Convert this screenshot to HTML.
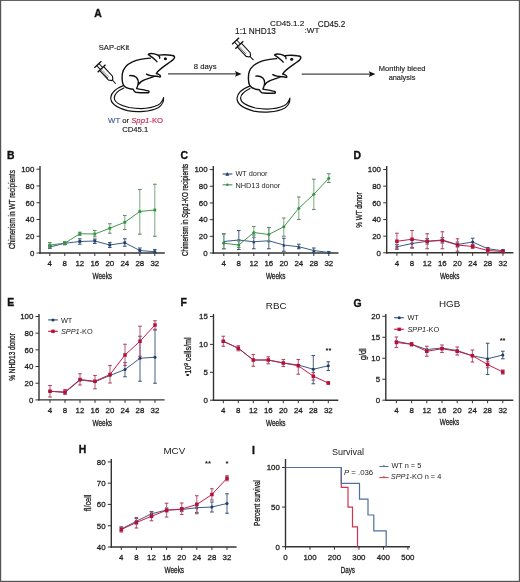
<!DOCTYPE html><html><head><meta charset="utf-8"><style>html,body{margin:0;padding:0;background:#fff;}svg{display:block;will-change:transform;}text{font-family:"Liberation Sans", sans-serif;}</style></head><body>
<svg width="520" height="582" viewBox="0 0 520 582">
<rect x="0" y="0" width="520" height="582" fill="#fff"/>
<text x="94.3" y="16.8" font-size="10.4" text-anchor="start" fill="#111" font-weight="bold" stroke="#111" stroke-width="0.35">A</text>
<text x="6.9" y="159.1" font-size="10.4" text-anchor="start" fill="#111" font-weight="bold" stroke="#111" stroke-width="0.35">B</text>
<text x="180.4" y="159.4" font-size="10.4" text-anchor="start" fill="#111" font-weight="bold" stroke="#111" stroke-width="0.35">C</text>
<text x="353.5" y="159.4" font-size="10.4" text-anchor="start" fill="#111" font-weight="bold" stroke="#111" stroke-width="0.35">D</text>
<text x="7.3" y="306.3" font-size="10.4" text-anchor="start" fill="#111" font-weight="bold" stroke="#111" stroke-width="0.35">E</text>
<text x="180.5" y="306.3" font-size="10.4" text-anchor="start" fill="#111" font-weight="bold" stroke="#111" stroke-width="0.35">F</text>
<text x="353.5" y="306.5" font-size="10.4" text-anchor="start" fill="#111" font-weight="bold" stroke="#111" stroke-width="0.35">G</text>
<text x="78.7" y="453.3" font-size="10.4" text-anchor="start" fill="#111" font-weight="bold" stroke="#111" stroke-width="0.35">H</text>
<text x="251.9" y="453.6" font-size="10.4" text-anchor="start" fill="#111" font-weight="bold" stroke="#111" stroke-width="0.35">I</text>
<line x1="40.0" y1="166.0" x2="40.0" y2="253.7" stroke="#333333" stroke-width="1.4"/>
<line x1="39.3" y1="253.0" x2="164.8" y2="253.0" stroke="#333333" stroke-width="1.4"/>
<line x1="36.5" y1="253.00" x2="40.0" y2="253.00" stroke="#333333" stroke-width="1"/>
<text x="34.3" y="255.85" font-size="7.9" text-anchor="end" fill="#1e1e1e" font-weight="normal" stroke="#1e1e1e" stroke-width="0.28">0</text>
<line x1="36.5" y1="236.24" x2="40.0" y2="236.24" stroke="#333333" stroke-width="1"/>
<text x="34.3" y="239.09" font-size="7.9" text-anchor="end" fill="#1e1e1e" font-weight="normal" stroke="#1e1e1e" stroke-width="0.28">20</text>
<line x1="36.5" y1="219.48" x2="40.0" y2="219.48" stroke="#333333" stroke-width="1"/>
<text x="34.3" y="222.33" font-size="7.9" text-anchor="end" fill="#1e1e1e" font-weight="normal" stroke="#1e1e1e" stroke-width="0.28">40</text>
<line x1="36.5" y1="202.72" x2="40.0" y2="202.72" stroke="#333333" stroke-width="1"/>
<text x="34.3" y="205.57" font-size="7.9" text-anchor="end" fill="#1e1e1e" font-weight="normal" stroke="#1e1e1e" stroke-width="0.28">60</text>
<line x1="36.5" y1="185.96" x2="40.0" y2="185.96" stroke="#333333" stroke-width="1"/>
<text x="34.3" y="188.81" font-size="7.9" text-anchor="end" fill="#1e1e1e" font-weight="normal" stroke="#1e1e1e" stroke-width="0.28">80</text>
<line x1="36.5" y1="169.20" x2="40.0" y2="169.20" stroke="#333333" stroke-width="1"/>
<text x="34.3" y="172.05" font-size="7.9" text-anchor="end" fill="#1e1e1e" font-weight="normal" stroke="#1e1e1e" stroke-width="0.28">100</text>
<line x1="49.80" y1="253.0" x2="49.80" y2="256.0" stroke="#333333" stroke-width="1"/>
<text x="49.8" y="266.0" font-size="7.9" text-anchor="middle" fill="#1e1e1e" font-weight="normal" stroke="#1e1e1e" stroke-width="0.28">4</text>
<line x1="64.80" y1="253.0" x2="64.80" y2="256.0" stroke="#333333" stroke-width="1"/>
<text x="64.8" y="266.0" font-size="7.9" text-anchor="middle" fill="#1e1e1e" font-weight="normal" stroke="#1e1e1e" stroke-width="0.28">8</text>
<line x1="79.80" y1="253.0" x2="79.80" y2="256.0" stroke="#333333" stroke-width="1"/>
<text x="79.8" y="266.0" font-size="7.9" text-anchor="middle" fill="#1e1e1e" font-weight="normal" stroke="#1e1e1e" stroke-width="0.28">12</text>
<line x1="94.80" y1="253.0" x2="94.80" y2="256.0" stroke="#333333" stroke-width="1"/>
<text x="94.8" y="266.0" font-size="7.9" text-anchor="middle" fill="#1e1e1e" font-weight="normal" stroke="#1e1e1e" stroke-width="0.28">16</text>
<line x1="109.80" y1="253.0" x2="109.80" y2="256.0" stroke="#333333" stroke-width="1"/>
<text x="109.8" y="266.0" font-size="7.9" text-anchor="middle" fill="#1e1e1e" font-weight="normal" stroke="#1e1e1e" stroke-width="0.28">20</text>
<line x1="124.80" y1="253.0" x2="124.80" y2="256.0" stroke="#333333" stroke-width="1"/>
<text x="124.8" y="266.0" font-size="7.9" text-anchor="middle" fill="#1e1e1e" font-weight="normal" stroke="#1e1e1e" stroke-width="0.28">24</text>
<line x1="139.80" y1="253.0" x2="139.80" y2="256.0" stroke="#333333" stroke-width="1"/>
<text x="139.8" y="266.0" font-size="7.9" text-anchor="middle" fill="#1e1e1e" font-weight="normal" stroke="#1e1e1e" stroke-width="0.28">28</text>
<line x1="154.80" y1="253.0" x2="154.80" y2="256.0" stroke="#333333" stroke-width="1"/>
<text x="154.8" y="266.0" font-size="7.9" text-anchor="middle" fill="#1e1e1e" font-weight="normal" stroke="#1e1e1e" stroke-width="0.28">32</text>
<text x="102.3" y="278.8" font-size="9.0" font-weight="normal" text-anchor="middle" fill="#1a1a1a" stroke="#1a1a1a" stroke-width="0.3" textLength="19.6" lengthAdjust="spacingAndGlyphs">Weeks</text>
<g transform="translate(14.9,209.6) rotate(-90)"><text x="0" y="0" font-size="9.0" font-weight="normal" text-anchor="middle" fill="#1a1a1a" stroke="#1a1a1a" stroke-width="0.3" textLength="79.0" lengthAdjust="spacingAndGlyphs">Chimerism in WT recipients</text></g>
<line x1="49.80" y1="245.5" x2="49.80" y2="248.5" stroke="#58718f" stroke-width="1.1"/>
<line x1="48.00" y1="245.5" x2="51.60" y2="245.5" stroke="#3f5a7e" stroke-width="1.1"/>
<line x1="48.00" y1="248.5" x2="51.60" y2="248.5" stroke="#3f5a7e" stroke-width="1.1"/>
<line x1="64.80" y1="242" x2="64.80" y2="244.5" stroke="#58718f" stroke-width="1.1"/>
<line x1="63.00" y1="242" x2="66.60" y2="242" stroke="#3f5a7e" stroke-width="1.1"/>
<line x1="63.00" y1="244.5" x2="66.60" y2="244.5" stroke="#3f5a7e" stroke-width="1.1"/>
<line x1="79.80" y1="238.75" x2="79.80" y2="244.25" stroke="#58718f" stroke-width="1.1"/>
<line x1="78.00" y1="238.75" x2="81.60" y2="238.75" stroke="#3f5a7e" stroke-width="1.1"/>
<line x1="78.00" y1="244.25" x2="81.60" y2="244.25" stroke="#3f5a7e" stroke-width="1.1"/>
<line x1="94.80" y1="239" x2="94.80" y2="243.5" stroke="#58718f" stroke-width="1.1"/>
<line x1="93.00" y1="239" x2="96.60" y2="239" stroke="#3f5a7e" stroke-width="1.1"/>
<line x1="93.00" y1="243.5" x2="96.60" y2="243.5" stroke="#3f5a7e" stroke-width="1.1"/>
<line x1="109.80" y1="242.5" x2="109.80" y2="247.5" stroke="#58718f" stroke-width="1.1"/>
<line x1="108.00" y1="242.5" x2="111.60" y2="242.5" stroke="#3f5a7e" stroke-width="1.1"/>
<line x1="108.00" y1="247.5" x2="111.60" y2="247.5" stroke="#3f5a7e" stroke-width="1.1"/>
<line x1="124.80" y1="238.75" x2="124.80" y2="246.25" stroke="#58718f" stroke-width="1.1"/>
<line x1="123.00" y1="238.75" x2="126.60" y2="238.75" stroke="#3f5a7e" stroke-width="1.1"/>
<line x1="123.00" y1="246.25" x2="126.60" y2="246.25" stroke="#3f5a7e" stroke-width="1.1"/>
<line x1="139.80" y1="248" x2="139.80" y2="253" stroke="#58718f" stroke-width="1.1"/>
<line x1="138.00" y1="248" x2="141.60" y2="248" stroke="#3f5a7e" stroke-width="1.1"/>
<line x1="138.00" y1="253" x2="141.60" y2="253" stroke="#3f5a7e" stroke-width="1.1"/>
<line x1="154.80" y1="249.5" x2="154.80" y2="253" stroke="#58718f" stroke-width="1.1"/>
<line x1="153.00" y1="249.5" x2="156.60" y2="249.5" stroke="#3f5a7e" stroke-width="1.1"/>
<line x1="153.00" y1="253" x2="156.60" y2="253" stroke="#3f5a7e" stroke-width="1.1"/>
<path d="M49.80,247.00 L64.80,243.25 L79.80,241.50 L94.80,241.00 L109.80,245.00 L124.80,242.75 L139.80,250.50 L154.80,251.75" fill="none" stroke="#3a5b86" stroke-width="1.0"/>
<rect x="48.40" y="245.60" width="2.8" height="2.8" fill="#1f3d66"/>
<rect x="63.40" y="241.85" width="2.8" height="2.8" fill="#1f3d66"/>
<rect x="78.40" y="240.10" width="2.8" height="2.8" fill="#1f3d66"/>
<rect x="93.40" y="239.60" width="2.8" height="2.8" fill="#1f3d66"/>
<rect x="108.40" y="243.60" width="2.8" height="2.8" fill="#1f3d66"/>
<rect x="123.40" y="241.35" width="2.8" height="2.8" fill="#1f3d66"/>
<rect x="138.40" y="249.10" width="2.8" height="2.8" fill="#1f3d66"/>
<rect x="153.40" y="250.35" width="2.8" height="2.8" fill="#1f3d66"/>
<line x1="49.80" y1="242.5" x2="49.80" y2="248" stroke="#88b08a" stroke-width="1.1"/>
<line x1="48.00" y1="242.5" x2="51.60" y2="242.5" stroke="#6a8a6e" stroke-width="1.1"/>
<line x1="48.00" y1="248" x2="51.60" y2="248" stroke="#6a8a6e" stroke-width="1.1"/>
<line x1="64.80" y1="241.8" x2="64.80" y2="244.8" stroke="#88b08a" stroke-width="1.1"/>
<line x1="63.00" y1="241.8" x2="66.60" y2="241.8" stroke="#6a8a6e" stroke-width="1.1"/>
<line x1="63.00" y1="244.8" x2="66.60" y2="244.8" stroke="#6a8a6e" stroke-width="1.1"/>
<line x1="79.80" y1="232.2" x2="79.80" y2="235.3" stroke="#88b08a" stroke-width="1.1"/>
<line x1="78.00" y1="232.2" x2="81.60" y2="232.2" stroke="#6a8a6e" stroke-width="1.1"/>
<line x1="78.00" y1="235.3" x2="81.60" y2="235.3" stroke="#6a8a6e" stroke-width="1.1"/>
<line x1="94.80" y1="230.5" x2="94.80" y2="236.75" stroke="#88b08a" stroke-width="1.1"/>
<line x1="93.00" y1="230.5" x2="96.60" y2="230.5" stroke="#6a8a6e" stroke-width="1.1"/>
<line x1="93.00" y1="236.75" x2="96.60" y2="236.75" stroke="#6a8a6e" stroke-width="1.1"/>
<line x1="109.80" y1="223.75" x2="109.80" y2="233.25" stroke="#88b08a" stroke-width="1.1"/>
<line x1="108.00" y1="223.75" x2="111.60" y2="223.75" stroke="#6a8a6e" stroke-width="1.1"/>
<line x1="108.00" y1="233.25" x2="111.60" y2="233.25" stroke="#6a8a6e" stroke-width="1.1"/>
<line x1="124.80" y1="215.5" x2="124.80" y2="229.5" stroke="#88b08a" stroke-width="1.1"/>
<line x1="123.00" y1="215.5" x2="126.60" y2="215.5" stroke="#6a8a6e" stroke-width="1.1"/>
<line x1="123.00" y1="229.5" x2="126.60" y2="229.5" stroke="#6a8a6e" stroke-width="1.1"/>
<line x1="139.80" y1="189.5" x2="139.80" y2="234.25" stroke="#88b08a" stroke-width="1.1"/>
<line x1="138.00" y1="189.5" x2="141.60" y2="189.5" stroke="#6a8a6e" stroke-width="1.1"/>
<line x1="138.00" y1="234.25" x2="141.60" y2="234.25" stroke="#6a8a6e" stroke-width="1.1"/>
<line x1="154.80" y1="184.25" x2="154.80" y2="236.25" stroke="#88b08a" stroke-width="1.1"/>
<line x1="153.00" y1="184.25" x2="156.60" y2="184.25" stroke="#6a8a6e" stroke-width="1.1"/>
<line x1="153.00" y1="236.25" x2="156.60" y2="236.25" stroke="#6a8a6e" stroke-width="1.1"/>
<path d="M49.80,245.00 L64.80,243.25 L79.80,233.75 L94.80,234.00 L109.80,228.25 L124.80,222.25 L139.80,211.50 L154.80,210.00" fill="none" stroke="#479450" stroke-width="1.0"/>
<rect x="48.40" y="243.60" width="2.8" height="2.8" fill="#2c9a3c"/>
<rect x="63.40" y="241.85" width="2.8" height="2.8" fill="#2c9a3c"/>
<rect x="78.40" y="232.35" width="2.8" height="2.8" fill="#2c9a3c"/>
<rect x="93.40" y="232.60" width="2.8" height="2.8" fill="#2c9a3c"/>
<rect x="108.40" y="226.85" width="2.8" height="2.8" fill="#2c9a3c"/>
<rect x="123.40" y="220.85" width="2.8" height="2.8" fill="#2c9a3c"/>
<rect x="138.40" y="210.10" width="2.8" height="2.8" fill="#2c9a3c"/>
<rect x="153.40" y="208.60" width="2.8" height="2.8" fill="#2c9a3c"/>
<line x1="213.3" y1="166.0" x2="213.3" y2="253.7" stroke="#333333" stroke-width="1.4"/>
<line x1="212.60000000000002" y1="253.0" x2="338.5" y2="253.0" stroke="#333333" stroke-width="1.4"/>
<line x1="209.8" y1="253.00" x2="213.3" y2="253.00" stroke="#333333" stroke-width="1"/>
<text x="207.6" y="255.85" font-size="7.9" text-anchor="end" fill="#1e1e1e" font-weight="normal" stroke="#1e1e1e" stroke-width="0.28">0</text>
<line x1="209.8" y1="236.32" x2="213.3" y2="236.32" stroke="#333333" stroke-width="1"/>
<text x="207.6" y="239.17" font-size="7.9" text-anchor="end" fill="#1e1e1e" font-weight="normal" stroke="#1e1e1e" stroke-width="0.28">20</text>
<line x1="209.8" y1="219.64" x2="213.3" y2="219.64" stroke="#333333" stroke-width="1"/>
<text x="207.6" y="222.49" font-size="7.9" text-anchor="end" fill="#1e1e1e" font-weight="normal" stroke="#1e1e1e" stroke-width="0.28">40</text>
<line x1="209.8" y1="202.96" x2="213.3" y2="202.96" stroke="#333333" stroke-width="1"/>
<text x="207.6" y="205.81" font-size="7.9" text-anchor="end" fill="#1e1e1e" font-weight="normal" stroke="#1e1e1e" stroke-width="0.28">60</text>
<line x1="209.8" y1="186.28" x2="213.3" y2="186.28" stroke="#333333" stroke-width="1"/>
<text x="207.6" y="189.13" font-size="7.9" text-anchor="end" fill="#1e1e1e" font-weight="normal" stroke="#1e1e1e" stroke-width="0.28">80</text>
<line x1="209.8" y1="169.60" x2="213.3" y2="169.60" stroke="#333333" stroke-width="1"/>
<text x="207.6" y="172.45" font-size="7.9" text-anchor="end" fill="#1e1e1e" font-weight="normal" stroke="#1e1e1e" stroke-width="0.28">100</text>
<line x1="223.80" y1="253.0" x2="223.80" y2="256.0" stroke="#333333" stroke-width="1"/>
<text x="223.8" y="266.0" font-size="7.9" text-anchor="middle" fill="#1e1e1e" font-weight="normal" stroke="#1e1e1e" stroke-width="0.28">4</text>
<line x1="238.80" y1="253.0" x2="238.80" y2="256.0" stroke="#333333" stroke-width="1"/>
<text x="238.8" y="266.0" font-size="7.9" text-anchor="middle" fill="#1e1e1e" font-weight="normal" stroke="#1e1e1e" stroke-width="0.28">8</text>
<line x1="253.80" y1="253.0" x2="253.80" y2="256.0" stroke="#333333" stroke-width="1"/>
<text x="253.8" y="266.0" font-size="7.9" text-anchor="middle" fill="#1e1e1e" font-weight="normal" stroke="#1e1e1e" stroke-width="0.28">12</text>
<line x1="268.80" y1="253.0" x2="268.80" y2="256.0" stroke="#333333" stroke-width="1"/>
<text x="268.8" y="266.0" font-size="7.9" text-anchor="middle" fill="#1e1e1e" font-weight="normal" stroke="#1e1e1e" stroke-width="0.28">16</text>
<line x1="283.80" y1="253.0" x2="283.80" y2="256.0" stroke="#333333" stroke-width="1"/>
<text x="283.8" y="266.0" font-size="7.9" text-anchor="middle" fill="#1e1e1e" font-weight="normal" stroke="#1e1e1e" stroke-width="0.28">20</text>
<line x1="298.80" y1="253.0" x2="298.80" y2="256.0" stroke="#333333" stroke-width="1"/>
<text x="298.8" y="266.0" font-size="7.9" text-anchor="middle" fill="#1e1e1e" font-weight="normal" stroke="#1e1e1e" stroke-width="0.28">24</text>
<line x1="313.80" y1="253.0" x2="313.80" y2="256.0" stroke="#333333" stroke-width="1"/>
<text x="313.8" y="266.0" font-size="7.9" text-anchor="middle" fill="#1e1e1e" font-weight="normal" stroke="#1e1e1e" stroke-width="0.28">28</text>
<line x1="328.80" y1="253.0" x2="328.80" y2="256.0" stroke="#333333" stroke-width="1"/>
<text x="328.8" y="266.0" font-size="7.9" text-anchor="middle" fill="#1e1e1e" font-weight="normal" stroke="#1e1e1e" stroke-width="0.28">32</text>
<text x="275.7" y="278.8" font-size="9.0" font-weight="normal" text-anchor="middle" fill="#1a1a1a" stroke="#1a1a1a" stroke-width="0.3" textLength="19.6" lengthAdjust="spacingAndGlyphs">Weeks</text>
<g transform="translate(188.4,209.9) rotate(-90)"><text x="0" y="0" font-size="9.0" font-weight="normal" text-anchor="middle" fill="#1a1a1a" stroke="#1a1a1a" stroke-width="0.3" textLength="92.3" lengthAdjust="spacingAndGlyphs">Chimerism in <tspan font-style="italic">Spp1</tspan>-KO recipients</text></g>
<line x1="223.80" y1="234" x2="223.80" y2="248.75" stroke="#58718f" stroke-width="1.1"/>
<line x1="222.00" y1="234" x2="225.60" y2="234" stroke="#3f5a7e" stroke-width="1.1"/>
<line x1="222.00" y1="248.75" x2="225.60" y2="248.75" stroke="#3f5a7e" stroke-width="1.1"/>
<line x1="238.80" y1="230.5" x2="238.80" y2="249.5" stroke="#58718f" stroke-width="1.1"/>
<line x1="237.00" y1="230.5" x2="240.60" y2="230.5" stroke="#3f5a7e" stroke-width="1.1"/>
<line x1="237.00" y1="249.5" x2="240.60" y2="249.5" stroke="#3f5a7e" stroke-width="1.1"/>
<line x1="253.80" y1="235" x2="253.80" y2="248.75" stroke="#58718f" stroke-width="1.1"/>
<line x1="252.00" y1="235" x2="255.60" y2="235" stroke="#3f5a7e" stroke-width="1.1"/>
<line x1="252.00" y1="248.75" x2="255.60" y2="248.75" stroke="#3f5a7e" stroke-width="1.1"/>
<line x1="268.80" y1="227.5" x2="268.80" y2="248.75" stroke="#58718f" stroke-width="1.1"/>
<line x1="267.00" y1="227.5" x2="270.60" y2="227.5" stroke="#3f5a7e" stroke-width="1.1"/>
<line x1="267.00" y1="248.75" x2="270.60" y2="248.75" stroke="#3f5a7e" stroke-width="1.1"/>
<line x1="283.80" y1="238.25" x2="283.80" y2="251.25" stroke="#58718f" stroke-width="1.1"/>
<line x1="282.00" y1="238.25" x2="285.60" y2="238.25" stroke="#3f5a7e" stroke-width="1.1"/>
<line x1="282.00" y1="251.25" x2="285.60" y2="251.25" stroke="#3f5a7e" stroke-width="1.1"/>
<line x1="298.80" y1="244.25" x2="298.80" y2="248.75" stroke="#58718f" stroke-width="1.1"/>
<line x1="297.00" y1="244.25" x2="300.60" y2="244.25" stroke="#3f5a7e" stroke-width="1.1"/>
<line x1="297.00" y1="248.75" x2="300.60" y2="248.75" stroke="#3f5a7e" stroke-width="1.1"/>
<line x1="313.80" y1="248" x2="313.80" y2="252.5" stroke="#58718f" stroke-width="1.1"/>
<line x1="312.00" y1="248" x2="315.60" y2="248" stroke="#3f5a7e" stroke-width="1.1"/>
<line x1="312.00" y1="252.5" x2="315.60" y2="252.5" stroke="#3f5a7e" stroke-width="1.1"/>
<line x1="328.80" y1="251.5" x2="328.80" y2="253" stroke="#58718f" stroke-width="1.1"/>
<line x1="327.00" y1="251.5" x2="330.60" y2="251.5" stroke="#3f5a7e" stroke-width="1.1"/>
<line x1="327.00" y1="253" x2="330.60" y2="253" stroke="#3f5a7e" stroke-width="1.1"/>
<path d="M223.80,241.50 L238.80,240.00 L253.80,241.75 L268.80,240.75 L283.80,245.00 L298.80,246.75 L313.80,250.50 L328.80,252.50" fill="none" stroke="#3a5b86" stroke-width="1.0"/>
<path d="M222.20,243.02 L225.40,243.02 L223.80,239.98 Z" fill="#1f3d66"/>
<path d="M237.20,241.52 L240.40,241.52 L238.80,238.48 Z" fill="#1f3d66"/>
<path d="M252.20,243.27 L255.40,243.27 L253.80,240.23 Z" fill="#1f3d66"/>
<path d="M267.20,242.27 L270.40,242.27 L268.80,239.23 Z" fill="#1f3d66"/>
<path d="M282.20,246.52 L285.40,246.52 L283.80,243.48 Z" fill="#1f3d66"/>
<path d="M297.20,248.27 L300.40,248.27 L298.80,245.23 Z" fill="#1f3d66"/>
<path d="M312.20,252.02 L315.40,252.02 L313.80,248.98 Z" fill="#1f3d66"/>
<path d="M327.20,254.02 L330.40,254.02 L328.80,250.98 Z" fill="#1f3d66"/>
<line x1="223.80" y1="233.75" x2="223.80" y2="248.75" stroke="#88b08a" stroke-width="1.1"/>
<line x1="222.00" y1="233.75" x2="225.60" y2="233.75" stroke="#6a8a6e" stroke-width="1.1"/>
<line x1="222.00" y1="248.75" x2="225.60" y2="248.75" stroke="#6a8a6e" stroke-width="1.1"/>
<line x1="238.80" y1="240" x2="238.80" y2="247.5" stroke="#88b08a" stroke-width="1.1"/>
<line x1="237.00" y1="240" x2="240.60" y2="240" stroke="#6a8a6e" stroke-width="1.1"/>
<line x1="237.00" y1="247.5" x2="240.60" y2="247.5" stroke="#6a8a6e" stroke-width="1.1"/>
<line x1="253.80" y1="226.5" x2="253.80" y2="237.5" stroke="#88b08a" stroke-width="1.1"/>
<line x1="252.00" y1="226.5" x2="255.60" y2="226.5" stroke="#6a8a6e" stroke-width="1.1"/>
<line x1="252.00" y1="237.5" x2="255.60" y2="237.5" stroke="#6a8a6e" stroke-width="1.1"/>
<line x1="268.80" y1="227.5" x2="268.80" y2="241.25" stroke="#88b08a" stroke-width="1.1"/>
<line x1="267.00" y1="227.5" x2="270.60" y2="227.5" stroke="#6a8a6e" stroke-width="1.1"/>
<line x1="267.00" y1="241.25" x2="270.60" y2="241.25" stroke="#6a8a6e" stroke-width="1.1"/>
<line x1="283.80" y1="218" x2="283.80" y2="236.25" stroke="#88b08a" stroke-width="1.1"/>
<line x1="282.00" y1="218" x2="285.60" y2="218" stroke="#6a8a6e" stroke-width="1.1"/>
<line x1="282.00" y1="236.25" x2="285.60" y2="236.25" stroke="#6a8a6e" stroke-width="1.1"/>
<line x1="298.80" y1="197" x2="298.80" y2="219.5" stroke="#88b08a" stroke-width="1.1"/>
<line x1="297.00" y1="197" x2="300.60" y2="197" stroke="#6a8a6e" stroke-width="1.1"/>
<line x1="297.00" y1="219.5" x2="300.60" y2="219.5" stroke="#6a8a6e" stroke-width="1.1"/>
<line x1="313.80" y1="179.25" x2="313.80" y2="209.5" stroke="#88b08a" stroke-width="1.1"/>
<line x1="312.00" y1="179.25" x2="315.60" y2="179.25" stroke="#6a8a6e" stroke-width="1.1"/>
<line x1="312.00" y1="209.5" x2="315.60" y2="209.5" stroke="#6a8a6e" stroke-width="1.1"/>
<line x1="328.80" y1="173.75" x2="328.80" y2="182.5" stroke="#88b08a" stroke-width="1.1"/>
<line x1="327.00" y1="173.75" x2="330.60" y2="173.75" stroke="#6a8a6e" stroke-width="1.1"/>
<line x1="327.00" y1="182.5" x2="330.60" y2="182.5" stroke="#6a8a6e" stroke-width="1.1"/>
<path d="M223.80,243.25 L238.80,245.00 L253.80,232.50 L268.80,234.50 L283.80,226.75 L298.80,208.25 L313.80,194.25 L328.80,178.25" fill="none" stroke="#479450" stroke-width="1.0"/>
<circle cx="223.80" cy="243.25" r="1.5" fill="#2c9a3c"/>
<circle cx="238.80" cy="245" r="1.5" fill="#2c9a3c"/>
<circle cx="253.80" cy="232.5" r="1.5" fill="#2c9a3c"/>
<circle cx="268.80" cy="234.5" r="1.5" fill="#2c9a3c"/>
<circle cx="283.80" cy="226.75" r="1.5" fill="#2c9a3c"/>
<circle cx="298.80" cy="208.25" r="1.5" fill="#2c9a3c"/>
<circle cx="313.80" cy="194.25" r="1.5" fill="#2c9a3c"/>
<circle cx="328.80" cy="178.25" r="1.5" fill="#2c9a3c"/>
<line x1="222.6" y1="174.0" x2="232.4" y2="174.0" stroke="#3a5b86" stroke-width="1.2"/>
<path d="M225.30,175.70 L229.30,175.70 L227.30,171.90 Z" fill="#1f3d66"/>
<text x="235.4" y="176.1" font-size="7.35" text-anchor="start" fill="#1e1e1e" font-weight="normal" >WT donor</text>
<line x1="222.6" y1="184.8" x2="232.4" y2="184.8" stroke="#5a9a60" stroke-width="1.2"/>
<circle cx="227.40" cy="184.8" r="1.3" fill="#2c9a3c"/>
<text x="235.4" y="187.5" font-size="7.35" text-anchor="start" fill="#1e1e1e" font-weight="normal" >NHD13 donor</text>
<line x1="386.7" y1="166.0" x2="386.7" y2="253.5" stroke="#333333" stroke-width="1.4"/>
<line x1="386.0" y1="252.8" x2="513.4" y2="252.8" stroke="#333333" stroke-width="1.4"/>
<line x1="383.2" y1="252.80" x2="386.7" y2="252.80" stroke="#333333" stroke-width="1"/>
<text x="381.0" y="255.65" font-size="7.9" text-anchor="end" fill="#1e1e1e" font-weight="normal" stroke="#1e1e1e" stroke-width="0.28">0</text>
<line x1="383.2" y1="236.14" x2="386.7" y2="236.14" stroke="#333333" stroke-width="1"/>
<text x="381.0" y="238.99" font-size="7.9" text-anchor="end" fill="#1e1e1e" font-weight="normal" stroke="#1e1e1e" stroke-width="0.28">20</text>
<line x1="383.2" y1="219.48" x2="386.7" y2="219.48" stroke="#333333" stroke-width="1"/>
<text x="381.0" y="222.33" font-size="7.9" text-anchor="end" fill="#1e1e1e" font-weight="normal" stroke="#1e1e1e" stroke-width="0.28">40</text>
<line x1="383.2" y1="202.82" x2="386.7" y2="202.82" stroke="#333333" stroke-width="1"/>
<text x="381.0" y="205.67" font-size="7.9" text-anchor="end" fill="#1e1e1e" font-weight="normal" stroke="#1e1e1e" stroke-width="0.28">60</text>
<line x1="383.2" y1="186.16" x2="386.7" y2="186.16" stroke="#333333" stroke-width="1"/>
<text x="381.0" y="189.01" font-size="7.9" text-anchor="end" fill="#1e1e1e" font-weight="normal" stroke="#1e1e1e" stroke-width="0.28">80</text>
<line x1="383.2" y1="169.50" x2="386.7" y2="169.50" stroke="#333333" stroke-width="1"/>
<text x="381.0" y="172.35" font-size="7.9" text-anchor="end" fill="#1e1e1e" font-weight="normal" stroke="#1e1e1e" stroke-width="0.28">100</text>
<line x1="396.90" y1="252.8" x2="396.90" y2="255.8" stroke="#333333" stroke-width="1"/>
<text x="396.9" y="265.8" font-size="7.9" text-anchor="middle" fill="#1e1e1e" font-weight="normal" stroke="#1e1e1e" stroke-width="0.28">4</text>
<line x1="412.05" y1="252.8" x2="412.05" y2="255.8" stroke="#333333" stroke-width="1"/>
<text x="412.05" y="265.8" font-size="7.9" text-anchor="middle" fill="#1e1e1e" font-weight="normal" stroke="#1e1e1e" stroke-width="0.28">8</text>
<line x1="427.20" y1="252.8" x2="427.20" y2="255.8" stroke="#333333" stroke-width="1"/>
<text x="427.2" y="265.8" font-size="7.9" text-anchor="middle" fill="#1e1e1e" font-weight="normal" stroke="#1e1e1e" stroke-width="0.28">12</text>
<line x1="442.35" y1="252.8" x2="442.35" y2="255.8" stroke="#333333" stroke-width="1"/>
<text x="442.35" y="265.8" font-size="7.9" text-anchor="middle" fill="#1e1e1e" font-weight="normal" stroke="#1e1e1e" stroke-width="0.28">16</text>
<line x1="457.50" y1="252.8" x2="457.50" y2="255.8" stroke="#333333" stroke-width="1"/>
<text x="457.5" y="265.8" font-size="7.9" text-anchor="middle" fill="#1e1e1e" font-weight="normal" stroke="#1e1e1e" stroke-width="0.28">20</text>
<line x1="472.65" y1="252.8" x2="472.65" y2="255.8" stroke="#333333" stroke-width="1"/>
<text x="472.65" y="265.8" font-size="7.9" text-anchor="middle" fill="#1e1e1e" font-weight="normal" stroke="#1e1e1e" stroke-width="0.28">24</text>
<line x1="487.80" y1="252.8" x2="487.80" y2="255.8" stroke="#333333" stroke-width="1"/>
<text x="487.8" y="265.8" font-size="7.9" text-anchor="middle" fill="#1e1e1e" font-weight="normal" stroke="#1e1e1e" stroke-width="0.28">28</text>
<line x1="502.95" y1="252.8" x2="502.95" y2="255.8" stroke="#333333" stroke-width="1"/>
<text x="502.95" y="265.8" font-size="7.9" text-anchor="middle" fill="#1e1e1e" font-weight="normal" stroke="#1e1e1e" stroke-width="0.28">32</text>
<text x="449.7" y="278.8" font-size="9.0" font-weight="normal" text-anchor="middle" fill="#1a1a1a" stroke="#1a1a1a" stroke-width="0.3" textLength="19.6" lengthAdjust="spacingAndGlyphs">Weeks</text>
<g transform="translate(361.6,210.0) rotate(-90)"><text x="0" y="0" font-size="9.0" font-weight="normal" text-anchor="middle" fill="#1a1a1a" stroke="#1a1a1a" stroke-width="0.3" textLength="35.6" lengthAdjust="spacingAndGlyphs">% WT donor</text></g>
<line x1="396.90" y1="244.5" x2="396.90" y2="249" stroke="#58718f" stroke-width="1.1"/>
<line x1="395.10" y1="244.5" x2="398.70" y2="244.5" stroke="#3f5a7e" stroke-width="1.1"/>
<line x1="395.10" y1="249" x2="398.70" y2="249" stroke="#3f5a7e" stroke-width="1.1"/>
<line x1="412.05" y1="240" x2="412.05" y2="247.5" stroke="#58718f" stroke-width="1.1"/>
<line x1="410.25" y1="240" x2="413.85" y2="240" stroke="#3f5a7e" stroke-width="1.1"/>
<line x1="410.25" y1="247.5" x2="413.85" y2="247.5" stroke="#3f5a7e" stroke-width="1.1"/>
<line x1="427.20" y1="238.5" x2="427.20" y2="244" stroke="#58718f" stroke-width="1.1"/>
<line x1="425.40" y1="238.5" x2="429.00" y2="238.5" stroke="#3f5a7e" stroke-width="1.1"/>
<line x1="425.40" y1="244" x2="429.00" y2="244" stroke="#3f5a7e" stroke-width="1.1"/>
<line x1="442.35" y1="237.5" x2="442.35" y2="243" stroke="#58718f" stroke-width="1.1"/>
<line x1="440.55" y1="237.5" x2="444.15" y2="237.5" stroke="#3f5a7e" stroke-width="1.1"/>
<line x1="440.55" y1="243" x2="444.15" y2="243" stroke="#3f5a7e" stroke-width="1.1"/>
<line x1="457.50" y1="242" x2="457.50" y2="247" stroke="#58718f" stroke-width="1.1"/>
<line x1="455.70" y1="242" x2="459.30" y2="242" stroke="#3f5a7e" stroke-width="1.1"/>
<line x1="455.70" y1="247" x2="459.30" y2="247" stroke="#3f5a7e" stroke-width="1.1"/>
<line x1="472.65" y1="238.25" x2="472.65" y2="245.75" stroke="#58718f" stroke-width="1.1"/>
<line x1="470.85" y1="238.25" x2="474.45" y2="238.25" stroke="#3f5a7e" stroke-width="1.1"/>
<line x1="470.85" y1="245.75" x2="474.45" y2="245.75" stroke="#3f5a7e" stroke-width="1.1"/>
<line x1="487.80" y1="247.5" x2="487.80" y2="250" stroke="#58718f" stroke-width="1.1"/>
<line x1="486.00" y1="247.5" x2="489.60" y2="247.5" stroke="#3f5a7e" stroke-width="1.1"/>
<line x1="486.00" y1="250" x2="489.60" y2="250" stroke="#3f5a7e" stroke-width="1.1"/>
<line x1="502.95" y1="249.5" x2="502.95" y2="252" stroke="#58718f" stroke-width="1.1"/>
<line x1="501.15" y1="249.5" x2="504.75" y2="249.5" stroke="#3f5a7e" stroke-width="1.1"/>
<line x1="501.15" y1="252" x2="504.75" y2="252" stroke="#3f5a7e" stroke-width="1.1"/>
<path d="M396.90,246.75 L412.05,243.50 L427.20,241.25 L442.35,240.00 L457.50,244.50 L472.65,242.00 L487.80,248.75 L502.95,250.75" fill="none" stroke="#3a5b86" stroke-width="1.0"/>
<circle cx="396.90" cy="246.75" r="1.55" fill="#1f3d66"/>
<circle cx="412.05" cy="243.5" r="1.55" fill="#1f3d66"/>
<circle cx="427.20" cy="241.25" r="1.55" fill="#1f3d66"/>
<circle cx="442.35" cy="240" r="1.55" fill="#1f3d66"/>
<circle cx="457.50" cy="244.5" r="1.55" fill="#1f3d66"/>
<circle cx="472.65" cy="242" r="1.55" fill="#1f3d66"/>
<circle cx="487.80" cy="248.75" r="1.55" fill="#1f3d66"/>
<circle cx="502.95" cy="250.75" r="1.55" fill="#1f3d66"/>
<line x1="396.90" y1="233.25" x2="396.90" y2="249.25" stroke="#bf6680" stroke-width="1.1"/>
<line x1="395.10" y1="233.25" x2="398.70" y2="233.25" stroke="#b04566" stroke-width="1.1"/>
<line x1="395.10" y1="249.25" x2="398.70" y2="249.25" stroke="#b04566" stroke-width="1.1"/>
<line x1="412.05" y1="230.5" x2="412.05" y2="248.25" stroke="#bf6680" stroke-width="1.1"/>
<line x1="410.25" y1="230.5" x2="413.85" y2="230.5" stroke="#b04566" stroke-width="1.1"/>
<line x1="410.25" y1="248.25" x2="413.85" y2="248.25" stroke="#b04566" stroke-width="1.1"/>
<line x1="427.20" y1="233.75" x2="427.20" y2="248.75" stroke="#bf6680" stroke-width="1.1"/>
<line x1="425.40" y1="233.75" x2="429.00" y2="233.75" stroke="#b04566" stroke-width="1.1"/>
<line x1="425.40" y1="248.75" x2="429.00" y2="248.75" stroke="#b04566" stroke-width="1.1"/>
<line x1="442.35" y1="231.75" x2="442.35" y2="248.75" stroke="#bf6680" stroke-width="1.1"/>
<line x1="440.55" y1="231.75" x2="444.15" y2="231.75" stroke="#b04566" stroke-width="1.1"/>
<line x1="440.55" y1="248.75" x2="444.15" y2="248.75" stroke="#b04566" stroke-width="1.1"/>
<line x1="457.50" y1="238.75" x2="457.50" y2="251.25" stroke="#bf6680" stroke-width="1.1"/>
<line x1="455.70" y1="238.75" x2="459.30" y2="238.75" stroke="#b04566" stroke-width="1.1"/>
<line x1="455.70" y1="251.25" x2="459.30" y2="251.25" stroke="#b04566" stroke-width="1.1"/>
<line x1="472.65" y1="244.5" x2="472.65" y2="248.25" stroke="#bf6680" stroke-width="1.1"/>
<line x1="470.85" y1="244.5" x2="474.45" y2="244.5" stroke="#b04566" stroke-width="1.1"/>
<line x1="470.85" y1="248.25" x2="474.45" y2="248.25" stroke="#b04566" stroke-width="1.1"/>
<line x1="487.80" y1="248.25" x2="487.80" y2="252.5" stroke="#bf6680" stroke-width="1.1"/>
<line x1="486.00" y1="248.25" x2="489.60" y2="248.25" stroke="#b04566" stroke-width="1.1"/>
<line x1="486.00" y1="252.5" x2="489.60" y2="252.5" stroke="#b04566" stroke-width="1.1"/>
<line x1="502.95" y1="250.5" x2="502.95" y2="252.5" stroke="#bf6680" stroke-width="1.1"/>
<line x1="501.15" y1="250.5" x2="504.75" y2="250.5" stroke="#b04566" stroke-width="1.1"/>
<line x1="501.15" y1="252.5" x2="504.75" y2="252.5" stroke="#b04566" stroke-width="1.1"/>
<path d="M396.90,241.25 L412.05,239.25 L427.20,241.25 L442.35,240.50 L457.50,245.00 L472.65,246.50 L487.80,250.50 L502.95,251.50" fill="none" stroke="#cc1a44" stroke-width="1.0"/>
<rect x="395.15" y="239.50" width="3.5" height="3.5" fill="#b3103a"/>
<rect x="410.30" y="237.50" width="3.5" height="3.5" fill="#b3103a"/>
<rect x="425.45" y="239.50" width="3.5" height="3.5" fill="#b3103a"/>
<rect x="440.60" y="238.75" width="3.5" height="3.5" fill="#b3103a"/>
<rect x="455.75" y="243.25" width="3.5" height="3.5" fill="#b3103a"/>
<rect x="470.90" y="244.75" width="3.5" height="3.5" fill="#b3103a"/>
<rect x="486.05" y="248.75" width="3.5" height="3.5" fill="#b3103a"/>
<rect x="501.20" y="249.75" width="3.5" height="3.5" fill="#b3103a"/>
<line x1="39.0" y1="314.0" x2="39.0" y2="400.59999999999997" stroke="#333333" stroke-width="1.4"/>
<line x1="38.3" y1="399.9" x2="164.6" y2="399.9" stroke="#333333" stroke-width="1.4"/>
<line x1="35.5" y1="399.90" x2="39.0" y2="399.90" stroke="#333333" stroke-width="1"/>
<text x="33.3" y="402.75" font-size="7.9" text-anchor="end" fill="#1e1e1e" font-weight="normal" stroke="#1e1e1e" stroke-width="0.28">0</text>
<line x1="35.5" y1="383.22" x2="39.0" y2="383.22" stroke="#333333" stroke-width="1"/>
<text x="33.3" y="386.07" font-size="7.9" text-anchor="end" fill="#1e1e1e" font-weight="normal" stroke="#1e1e1e" stroke-width="0.28">20</text>
<line x1="35.5" y1="366.54" x2="39.0" y2="366.54" stroke="#333333" stroke-width="1"/>
<text x="33.3" y="369.39" font-size="7.9" text-anchor="end" fill="#1e1e1e" font-weight="normal" stroke="#1e1e1e" stroke-width="0.28">40</text>
<line x1="35.5" y1="349.86" x2="39.0" y2="349.86" stroke="#333333" stroke-width="1"/>
<text x="33.3" y="352.71" font-size="7.9" text-anchor="end" fill="#1e1e1e" font-weight="normal" stroke="#1e1e1e" stroke-width="0.28">60</text>
<line x1="35.5" y1="333.18" x2="39.0" y2="333.18" stroke="#333333" stroke-width="1"/>
<text x="33.3" y="336.03" font-size="7.9" text-anchor="end" fill="#1e1e1e" font-weight="normal" stroke="#1e1e1e" stroke-width="0.28">80</text>
<line x1="35.5" y1="316.50" x2="39.0" y2="316.50" stroke="#333333" stroke-width="1"/>
<text x="33.3" y="319.35" font-size="7.9" text-anchor="end" fill="#1e1e1e" font-weight="normal" stroke="#1e1e1e" stroke-width="0.28">100</text>
<line x1="50.00" y1="399.9" x2="50.00" y2="402.9" stroke="#333333" stroke-width="1"/>
<text x="50.0" y="412.9" font-size="7.9" text-anchor="middle" fill="#1e1e1e" font-weight="normal" stroke="#1e1e1e" stroke-width="0.28">4</text>
<line x1="65.00" y1="399.9" x2="65.00" y2="402.9" stroke="#333333" stroke-width="1"/>
<text x="65.0" y="412.9" font-size="7.9" text-anchor="middle" fill="#1e1e1e" font-weight="normal" stroke="#1e1e1e" stroke-width="0.28">8</text>
<line x1="80.00" y1="399.9" x2="80.00" y2="402.9" stroke="#333333" stroke-width="1"/>
<text x="80.0" y="412.9" font-size="7.9" text-anchor="middle" fill="#1e1e1e" font-weight="normal" stroke="#1e1e1e" stroke-width="0.28">12</text>
<line x1="95.00" y1="399.9" x2="95.00" y2="402.9" stroke="#333333" stroke-width="1"/>
<text x="95.0" y="412.9" font-size="7.9" text-anchor="middle" fill="#1e1e1e" font-weight="normal" stroke="#1e1e1e" stroke-width="0.28">16</text>
<line x1="110.00" y1="399.9" x2="110.00" y2="402.9" stroke="#333333" stroke-width="1"/>
<text x="110.0" y="412.9" font-size="7.9" text-anchor="middle" fill="#1e1e1e" font-weight="normal" stroke="#1e1e1e" stroke-width="0.28">20</text>
<line x1="125.00" y1="399.9" x2="125.00" y2="402.9" stroke="#333333" stroke-width="1"/>
<text x="125.0" y="412.9" font-size="7.9" text-anchor="middle" fill="#1e1e1e" font-weight="normal" stroke="#1e1e1e" stroke-width="0.28">24</text>
<line x1="140.00" y1="399.9" x2="140.00" y2="402.9" stroke="#333333" stroke-width="1"/>
<text x="140.0" y="412.9" font-size="7.9" text-anchor="middle" fill="#1e1e1e" font-weight="normal" stroke="#1e1e1e" stroke-width="0.28">28</text>
<line x1="155.00" y1="399.9" x2="155.00" y2="402.9" stroke="#333333" stroke-width="1"/>
<text x="155.0" y="412.9" font-size="7.9" text-anchor="middle" fill="#1e1e1e" font-weight="normal" stroke="#1e1e1e" stroke-width="0.28">32</text>
<text x="102.3" y="425.8" font-size="9.0" font-weight="normal" text-anchor="middle" fill="#1a1a1a" stroke="#1a1a1a" stroke-width="0.3" textLength="19.6" lengthAdjust="spacingAndGlyphs">Weeks</text>
<g transform="translate(14.9,357.0) rotate(-90)"><text x="0" y="0" font-size="9.0" font-weight="normal" text-anchor="middle" fill="#1a1a1a" stroke="#1a1a1a" stroke-width="0.3" textLength="47.6" lengthAdjust="spacingAndGlyphs">% NHD13 donor</text></g>
<line x1="125.00" y1="362.5" x2="125.00" y2="376.75" stroke="#58718f" stroke-width="1.1"/>
<line x1="123.20" y1="362.5" x2="126.80" y2="362.5" stroke="#3f5a7e" stroke-width="1.1"/>
<line x1="123.20" y1="376.75" x2="126.80" y2="376.75" stroke="#3f5a7e" stroke-width="1.1"/>
<line x1="140.00" y1="336.25" x2="140.00" y2="381.25" stroke="#58718f" stroke-width="1.1"/>
<line x1="138.20" y1="336.25" x2="141.80" y2="336.25" stroke="#3f5a7e" stroke-width="1.1"/>
<line x1="138.20" y1="381.25" x2="141.80" y2="381.25" stroke="#3f5a7e" stroke-width="1.1"/>
<line x1="155.00" y1="330" x2="155.00" y2="383.25" stroke="#58718f" stroke-width="1.1"/>
<line x1="153.20" y1="330" x2="156.80" y2="330" stroke="#3f5a7e" stroke-width="1.1"/>
<line x1="153.20" y1="383.25" x2="156.80" y2="383.25" stroke="#3f5a7e" stroke-width="1.1"/>
<path d="M50.00,391.25 L65.00,392.50 L80.00,380.00 L95.00,381.75 L110.00,375.50 L125.00,369.50 L140.00,358.25 L155.00,357.25" fill="none" stroke="#3a5b86" stroke-width="1.0"/>
<circle cx="50.00" cy="391.25" r="1.55" fill="#1f3d66"/>
<circle cx="65.00" cy="392.5" r="1.55" fill="#1f3d66"/>
<circle cx="80.00" cy="380" r="1.55" fill="#1f3d66"/>
<circle cx="95.00" cy="381.75" r="1.55" fill="#1f3d66"/>
<circle cx="110.00" cy="375.5" r="1.55" fill="#1f3d66"/>
<circle cx="125.00" cy="369.5" r="1.55" fill="#1f3d66"/>
<circle cx="140.00" cy="358.25" r="1.55" fill="#1f3d66"/>
<circle cx="155.00" cy="357.25" r="1.55" fill="#1f3d66"/>
<line x1="50.00" y1="385.5" x2="50.00" y2="397" stroke="#bf6680" stroke-width="1.1"/>
<line x1="48.20" y1="385.5" x2="51.80" y2="385.5" stroke="#b04566" stroke-width="1.1"/>
<line x1="48.20" y1="397" x2="51.80" y2="397" stroke="#b04566" stroke-width="1.1"/>
<line x1="65.00" y1="389.5" x2="65.00" y2="394.5" stroke="#bf6680" stroke-width="1.1"/>
<line x1="63.20" y1="389.5" x2="66.80" y2="389.5" stroke="#b04566" stroke-width="1.1"/>
<line x1="63.20" y1="394.5" x2="66.80" y2="394.5" stroke="#b04566" stroke-width="1.1"/>
<line x1="80.00" y1="373.75" x2="80.00" y2="385" stroke="#bf6680" stroke-width="1.1"/>
<line x1="78.20" y1="373.75" x2="81.80" y2="373.75" stroke="#b04566" stroke-width="1.1"/>
<line x1="78.20" y1="385" x2="81.80" y2="385" stroke="#b04566" stroke-width="1.1"/>
<line x1="95.00" y1="375.5" x2="95.00" y2="388.75" stroke="#bf6680" stroke-width="1.1"/>
<line x1="93.20" y1="375.5" x2="96.80" y2="375.5" stroke="#b04566" stroke-width="1.1"/>
<line x1="93.20" y1="388.75" x2="96.80" y2="388.75" stroke="#b04566" stroke-width="1.1"/>
<line x1="110.00" y1="365.5" x2="110.00" y2="383" stroke="#bf6680" stroke-width="1.1"/>
<line x1="108.20" y1="365.5" x2="111.80" y2="365.5" stroke="#b04566" stroke-width="1.1"/>
<line x1="108.20" y1="383" x2="111.80" y2="383" stroke="#b04566" stroke-width="1.1"/>
<line x1="125.00" y1="344.25" x2="125.00" y2="365.5" stroke="#bf6680" stroke-width="1.1"/>
<line x1="123.20" y1="344.25" x2="126.80" y2="344.25" stroke="#b04566" stroke-width="1.1"/>
<line x1="123.20" y1="365.5" x2="126.80" y2="365.5" stroke="#b04566" stroke-width="1.1"/>
<line x1="140.00" y1="326.25" x2="140.00" y2="356.25" stroke="#bf6680" stroke-width="1.1"/>
<line x1="138.20" y1="326.25" x2="141.80" y2="326.25" stroke="#b04566" stroke-width="1.1"/>
<line x1="138.20" y1="356.25" x2="141.80" y2="356.25" stroke="#b04566" stroke-width="1.1"/>
<line x1="155.00" y1="320.75" x2="155.00" y2="329.25" stroke="#bf6680" stroke-width="1.1"/>
<line x1="153.20" y1="320.75" x2="156.80" y2="320.75" stroke="#b04566" stroke-width="1.1"/>
<line x1="153.20" y1="329.25" x2="156.80" y2="329.25" stroke="#b04566" stroke-width="1.1"/>
<path d="M50.00,391.25 L65.00,392.00 L80.00,379.50 L95.00,381.25 L110.00,374.50 L125.00,355.00 L140.00,341.25 L155.00,325.00" fill="none" stroke="#cc1a44" stroke-width="1.0"/>
<rect x="48.25" y="389.50" width="3.5" height="3.5" fill="#b3103a"/>
<rect x="63.25" y="390.25" width="3.5" height="3.5" fill="#b3103a"/>
<rect x="78.25" y="377.75" width="3.5" height="3.5" fill="#b3103a"/>
<rect x="93.25" y="379.50" width="3.5" height="3.5" fill="#b3103a"/>
<rect x="108.25" y="372.75" width="3.5" height="3.5" fill="#b3103a"/>
<rect x="123.25" y="353.25" width="3.5" height="3.5" fill="#b3103a"/>
<rect x="138.25" y="339.50" width="3.5" height="3.5" fill="#b3103a"/>
<rect x="153.25" y="323.25" width="3.5" height="3.5" fill="#b3103a"/>
<line x1="48.2" y1="319.9" x2="57.8" y2="319.9" stroke="#3a5b86" stroke-width="1.2"/>
<circle cx="53.00" cy="319.9" r="1.5" fill="#1f3d66"/>
<text x="60.9" y="322.5" font-size="7.35" text-anchor="start" fill="#1e1e1e" font-weight="normal" >WT</text>
<line x1="48.2" y1="331.3" x2="57.8" y2="331.3" stroke="#cc1a44" stroke-width="1.2"/>
<rect x="51.30" y="329.60" width="3.4" height="3.4" fill="#b3103a"/>
<text x="60.9" y="333.7" font-size="7.35" text-anchor="start" fill="#1e1e1e" font-weight="normal" ><tspan font-style="italic">SPP1</tspan>-KO</text>
<line x1="213.5" y1="314.0" x2="213.5" y2="400.9" stroke="#333333" stroke-width="1.4"/>
<line x1="212.8" y1="400.2" x2="338.3" y2="400.2" stroke="#333333" stroke-width="1.4"/>
<line x1="210.0" y1="400.20" x2="213.5" y2="400.20" stroke="#333333" stroke-width="1"/>
<text x="207.8" y="403.05" font-size="7.9" text-anchor="end" fill="#1e1e1e" font-weight="normal" stroke="#1e1e1e" stroke-width="0.28">0</text>
<line x1="210.0" y1="372.30" x2="213.5" y2="372.30" stroke="#333333" stroke-width="1"/>
<text x="207.8" y="375.15" font-size="7.9" text-anchor="end" fill="#1e1e1e" font-weight="normal" stroke="#1e1e1e" stroke-width="0.28">5</text>
<line x1="210.0" y1="344.40" x2="213.5" y2="344.40" stroke="#333333" stroke-width="1"/>
<text x="207.8" y="347.25" font-size="7.9" text-anchor="end" fill="#1e1e1e" font-weight="normal" stroke="#1e1e1e" stroke-width="0.28">10</text>
<line x1="210.0" y1="316.50" x2="213.5" y2="316.50" stroke="#333333" stroke-width="1"/>
<text x="207.8" y="319.35" font-size="7.9" text-anchor="end" fill="#1e1e1e" font-weight="normal" stroke="#1e1e1e" stroke-width="0.28">15</text>
<line x1="223.30" y1="400.2" x2="223.30" y2="403.2" stroke="#333333" stroke-width="1"/>
<text x="223.3" y="413.2" font-size="7.9" text-anchor="middle" fill="#1e1e1e" font-weight="normal" stroke="#1e1e1e" stroke-width="0.28">4</text>
<line x1="238.30" y1="400.2" x2="238.30" y2="403.2" stroke="#333333" stroke-width="1"/>
<text x="238.3" y="413.2" font-size="7.9" text-anchor="middle" fill="#1e1e1e" font-weight="normal" stroke="#1e1e1e" stroke-width="0.28">8</text>
<line x1="253.30" y1="400.2" x2="253.30" y2="403.2" stroke="#333333" stroke-width="1"/>
<text x="253.3" y="413.2" font-size="7.9" text-anchor="middle" fill="#1e1e1e" font-weight="normal" stroke="#1e1e1e" stroke-width="0.28">12</text>
<line x1="268.30" y1="400.2" x2="268.30" y2="403.2" stroke="#333333" stroke-width="1"/>
<text x="268.3" y="413.2" font-size="7.9" text-anchor="middle" fill="#1e1e1e" font-weight="normal" stroke="#1e1e1e" stroke-width="0.28">16</text>
<line x1="283.30" y1="400.2" x2="283.30" y2="403.2" stroke="#333333" stroke-width="1"/>
<text x="283.3" y="413.2" font-size="7.9" text-anchor="middle" fill="#1e1e1e" font-weight="normal" stroke="#1e1e1e" stroke-width="0.28">20</text>
<line x1="298.30" y1="400.2" x2="298.30" y2="403.2" stroke="#333333" stroke-width="1"/>
<text x="298.3" y="413.2" font-size="7.9" text-anchor="middle" fill="#1e1e1e" font-weight="normal" stroke="#1e1e1e" stroke-width="0.28">24</text>
<line x1="313.30" y1="400.2" x2="313.30" y2="403.2" stroke="#333333" stroke-width="1"/>
<text x="313.3" y="413.2" font-size="7.9" text-anchor="middle" fill="#1e1e1e" font-weight="normal" stroke="#1e1e1e" stroke-width="0.28">28</text>
<line x1="328.30" y1="400.2" x2="328.30" y2="403.2" stroke="#333333" stroke-width="1"/>
<text x="328.3" y="413.2" font-size="7.9" text-anchor="middle" fill="#1e1e1e" font-weight="normal" stroke="#1e1e1e" stroke-width="0.28">32</text>
<text x="275.8" y="425.8" font-size="9.0" font-weight="normal" text-anchor="middle" fill="#1a1a1a" stroke="#1a1a1a" stroke-width="0.3" textLength="19.6" lengthAdjust="spacingAndGlyphs">Weeks</text>
<text x="276.2" y="308.5" font-size="9.8" text-anchor="middle" fill="#222" font-weight="normal" >RBC</text>
<g transform="translate(191.4,356.9) rotate(-90)"><text x="0" y="0" font-size="9.0" font-weight="normal" text-anchor="middle" fill="#1a1a1a" stroke="#1a1a1a" stroke-width="0.3" textLength="38.8" lengthAdjust="spacingAndGlyphs">•10<tspan font-size="6" dy="-3.2">9</tspan><tspan dy="3.2"> cells/ml</tspan></text></g>
<line x1="313.30" y1="355.5" x2="313.30" y2="383.75" stroke="#58718f" stroke-width="1.1"/>
<line x1="311.50" y1="355.5" x2="315.10" y2="355.5" stroke="#3f5a7e" stroke-width="1.1"/>
<line x1="311.50" y1="383.75" x2="315.10" y2="383.75" stroke="#3f5a7e" stroke-width="1.1"/>
<line x1="328.30" y1="361.75" x2="328.30" y2="370.5" stroke="#58718f" stroke-width="1.1"/>
<line x1="326.50" y1="361.75" x2="330.10" y2="361.75" stroke="#3f5a7e" stroke-width="1.1"/>
<line x1="326.50" y1="370.5" x2="330.10" y2="370.5" stroke="#3f5a7e" stroke-width="1.1"/>
<path d="M223.30,341.25 L238.30,348.25 L253.30,360.00 L268.30,360.00 L283.30,363.00 L298.30,365.00 L313.30,369.25 L328.30,365.75" fill="none" stroke="#3a5b86" stroke-width="1.0"/>
<circle cx="223.30" cy="341.25" r="1.55" fill="#1f3d66"/>
<circle cx="238.30" cy="348.25" r="1.55" fill="#1f3d66"/>
<circle cx="253.30" cy="360" r="1.55" fill="#1f3d66"/>
<circle cx="268.30" cy="360" r="1.55" fill="#1f3d66"/>
<circle cx="283.30" cy="363" r="1.55" fill="#1f3d66"/>
<circle cx="298.30" cy="365" r="1.55" fill="#1f3d66"/>
<circle cx="313.30" cy="369.25" r="1.55" fill="#1f3d66"/>
<circle cx="328.30" cy="365.75" r="1.55" fill="#1f3d66"/>
<line x1="223.30" y1="336.25" x2="223.30" y2="346.25" stroke="#bf6680" stroke-width="1.1"/>
<line x1="221.50" y1="336.25" x2="225.10" y2="336.25" stroke="#b04566" stroke-width="1.1"/>
<line x1="221.50" y1="346.25" x2="225.10" y2="346.25" stroke="#b04566" stroke-width="1.1"/>
<line x1="238.30" y1="345.75" x2="238.30" y2="350.75" stroke="#bf6680" stroke-width="1.1"/>
<line x1="236.50" y1="345.75" x2="240.10" y2="345.75" stroke="#b04566" stroke-width="1.1"/>
<line x1="236.50" y1="350.75" x2="240.10" y2="350.75" stroke="#b04566" stroke-width="1.1"/>
<line x1="253.30" y1="354.5" x2="253.30" y2="366.25" stroke="#bf6680" stroke-width="1.1"/>
<line x1="251.50" y1="354.5" x2="255.10" y2="354.5" stroke="#b04566" stroke-width="1.1"/>
<line x1="251.50" y1="366.25" x2="255.10" y2="366.25" stroke="#b04566" stroke-width="1.1"/>
<line x1="268.30" y1="356.75" x2="268.30" y2="363.75" stroke="#bf6680" stroke-width="1.1"/>
<line x1="266.50" y1="356.75" x2="270.10" y2="356.75" stroke="#b04566" stroke-width="1.1"/>
<line x1="266.50" y1="363.75" x2="270.10" y2="363.75" stroke="#b04566" stroke-width="1.1"/>
<line x1="283.30" y1="359.5" x2="283.30" y2="366.5" stroke="#bf6680" stroke-width="1.1"/>
<line x1="281.50" y1="359.5" x2="285.10" y2="359.5" stroke="#b04566" stroke-width="1.1"/>
<line x1="281.50" y1="366.5" x2="285.10" y2="366.5" stroke="#b04566" stroke-width="1.1"/>
<line x1="298.30" y1="359.5" x2="298.30" y2="374.25" stroke="#bf6680" stroke-width="1.1"/>
<line x1="296.50" y1="359.5" x2="300.10" y2="359.5" stroke="#b04566" stroke-width="1.1"/>
<line x1="296.50" y1="374.25" x2="300.10" y2="374.25" stroke="#b04566" stroke-width="1.1"/>
<line x1="313.30" y1="372.5" x2="313.30" y2="380" stroke="#bf6680" stroke-width="1.1"/>
<line x1="311.50" y1="372.5" x2="315.10" y2="372.5" stroke="#b04566" stroke-width="1.1"/>
<line x1="311.50" y1="380" x2="315.10" y2="380" stroke="#b04566" stroke-width="1.1"/>
<line x1="328.30" y1="382" x2="328.30" y2="384" stroke="#bf6680" stroke-width="1.1"/>
<line x1="326.50" y1="382" x2="330.10" y2="382" stroke="#b04566" stroke-width="1.1"/>
<line x1="326.50" y1="384" x2="330.10" y2="384" stroke="#b04566" stroke-width="1.1"/>
<path d="M223.30,341.25 L238.30,348.25 L253.30,360.00 L268.30,360.00 L283.30,363.00 L298.30,365.75 L313.30,376.25 L328.30,383.00" fill="none" stroke="#cc1a44" stroke-width="1.0"/>
<rect x="221.55" y="339.50" width="3.5" height="3.5" fill="#b3103a"/>
<rect x="236.55" y="346.50" width="3.5" height="3.5" fill="#b3103a"/>
<rect x="251.55" y="358.25" width="3.5" height="3.5" fill="#b3103a"/>
<rect x="266.55" y="358.25" width="3.5" height="3.5" fill="#b3103a"/>
<rect x="281.55" y="361.25" width="3.5" height="3.5" fill="#b3103a"/>
<rect x="296.55" y="364.00" width="3.5" height="3.5" fill="#b3103a"/>
<rect x="311.55" y="374.50" width="3.5" height="3.5" fill="#b3103a"/>
<rect x="326.55" y="381.25" width="3.5" height="3.5" fill="#b3103a"/>
<text x="328.4" y="352.9" font-size="7.6" text-anchor="middle" fill="#111" font-weight="bold" >**</text>
<line x1="385.8" y1="314.0" x2="385.8" y2="400.9" stroke="#333333" stroke-width="1.4"/>
<line x1="385.1" y1="400.2" x2="513.3" y2="400.2" stroke="#333333" stroke-width="1.4"/>
<line x1="382.3" y1="400.20" x2="385.8" y2="400.20" stroke="#333333" stroke-width="1"/>
<text x="380.1" y="403.05" font-size="7.9" text-anchor="end" fill="#1e1e1e" font-weight="normal" stroke="#1e1e1e" stroke-width="0.28">0</text>
<line x1="382.3" y1="379.23" x2="385.8" y2="379.23" stroke="#333333" stroke-width="1"/>
<text x="380.1" y="382.08" font-size="7.9" text-anchor="end" fill="#1e1e1e" font-weight="normal" stroke="#1e1e1e" stroke-width="0.28">5</text>
<line x1="382.3" y1="358.25" x2="385.8" y2="358.25" stroke="#333333" stroke-width="1"/>
<text x="380.1" y="361.1" font-size="7.9" text-anchor="end" fill="#1e1e1e" font-weight="normal" stroke="#1e1e1e" stroke-width="0.28">10</text>
<line x1="382.3" y1="337.28" x2="385.8" y2="337.28" stroke="#333333" stroke-width="1"/>
<text x="380.1" y="340.13" font-size="7.9" text-anchor="end" fill="#1e1e1e" font-weight="normal" stroke="#1e1e1e" stroke-width="0.28">15</text>
<line x1="382.3" y1="316.30" x2="385.8" y2="316.30" stroke="#333333" stroke-width="1"/>
<text x="380.1" y="319.15" font-size="7.9" text-anchor="end" fill="#1e1e1e" font-weight="normal" stroke="#1e1e1e" stroke-width="0.28">20</text>
<line x1="396.40" y1="400.2" x2="396.40" y2="403.2" stroke="#333333" stroke-width="1"/>
<text x="396.4" y="413.2" font-size="7.9" text-anchor="middle" fill="#1e1e1e" font-weight="normal" stroke="#1e1e1e" stroke-width="0.28">4</text>
<line x1="411.60" y1="400.2" x2="411.60" y2="403.2" stroke="#333333" stroke-width="1"/>
<text x="411.6" y="413.2" font-size="7.9" text-anchor="middle" fill="#1e1e1e" font-weight="normal" stroke="#1e1e1e" stroke-width="0.28">8</text>
<line x1="426.80" y1="400.2" x2="426.80" y2="403.2" stroke="#333333" stroke-width="1"/>
<text x="426.8" y="413.2" font-size="7.9" text-anchor="middle" fill="#1e1e1e" font-weight="normal" stroke="#1e1e1e" stroke-width="0.28">12</text>
<line x1="442.00" y1="400.2" x2="442.00" y2="403.2" stroke="#333333" stroke-width="1"/>
<text x="442.0" y="413.2" font-size="7.9" text-anchor="middle" fill="#1e1e1e" font-weight="normal" stroke="#1e1e1e" stroke-width="0.28">16</text>
<line x1="457.20" y1="400.2" x2="457.20" y2="403.2" stroke="#333333" stroke-width="1"/>
<text x="457.2" y="413.2" font-size="7.9" text-anchor="middle" fill="#1e1e1e" font-weight="normal" stroke="#1e1e1e" stroke-width="0.28">20</text>
<line x1="472.40" y1="400.2" x2="472.40" y2="403.2" stroke="#333333" stroke-width="1"/>
<text x="472.4" y="413.2" font-size="7.9" text-anchor="middle" fill="#1e1e1e" font-weight="normal" stroke="#1e1e1e" stroke-width="0.28">24</text>
<line x1="487.60" y1="400.2" x2="487.60" y2="403.2" stroke="#333333" stroke-width="1"/>
<text x="487.6" y="413.2" font-size="7.9" text-anchor="middle" fill="#1e1e1e" font-weight="normal" stroke="#1e1e1e" stroke-width="0.28">28</text>
<line x1="502.80" y1="400.2" x2="502.80" y2="403.2" stroke="#333333" stroke-width="1"/>
<text x="502.8" y="413.2" font-size="7.9" text-anchor="middle" fill="#1e1e1e" font-weight="normal" stroke="#1e1e1e" stroke-width="0.28">32</text>
<text x="449.5" y="425.2" font-size="9.0" font-weight="normal" text-anchor="middle" fill="#1a1a1a" stroke="#1a1a1a" stroke-width="0.3" textLength="19.6" lengthAdjust="spacingAndGlyphs">Weeks</text>
<text x="449.65" y="306.9" font-size="9.8" text-anchor="middle" fill="#222" font-weight="normal" >HGB</text>
<g transform="translate(366.2,354.3) rotate(-90)"><text x="0" y="0" font-size="9.0" font-weight="normal" text-anchor="middle" fill="#1a1a1a" stroke="#1a1a1a" stroke-width="0.3" textLength="11.6" lengthAdjust="spacingAndGlyphs">g/dl</text></g>
<line x1="487.60" y1="343.25" x2="487.60" y2="374.5" stroke="#58718f" stroke-width="1.1"/>
<line x1="485.80" y1="343.25" x2="489.40" y2="343.25" stroke="#3f5a7e" stroke-width="1.1"/>
<line x1="485.80" y1="374.5" x2="489.40" y2="374.5" stroke="#3f5a7e" stroke-width="1.1"/>
<line x1="502.80" y1="351.25" x2="502.80" y2="358.75" stroke="#58718f" stroke-width="1.1"/>
<line x1="501.00" y1="351.25" x2="504.60" y2="351.25" stroke="#3f5a7e" stroke-width="1.1"/>
<line x1="501.00" y1="358.75" x2="504.60" y2="358.75" stroke="#3f5a7e" stroke-width="1.1"/>
<path d="M396.40,341.25 L411.60,344.25 L426.80,349.50 L442.00,348.00 L457.20,350.50 L472.40,355.75 L487.60,358.75 L502.80,355.00" fill="none" stroke="#3a5b86" stroke-width="1.0"/>
<circle cx="396.40" cy="341.25" r="1.55" fill="#1f3d66"/>
<circle cx="411.60" cy="344.25" r="1.55" fill="#1f3d66"/>
<circle cx="426.80" cy="349.5" r="1.55" fill="#1f3d66"/>
<circle cx="442.00" cy="348" r="1.55" fill="#1f3d66"/>
<circle cx="457.20" cy="350.5" r="1.55" fill="#1f3d66"/>
<circle cx="472.40" cy="355.75" r="1.55" fill="#1f3d66"/>
<circle cx="487.60" cy="358.75" r="1.55" fill="#1f3d66"/>
<circle cx="502.80" cy="355" r="1.55" fill="#1f3d66"/>
<line x1="396.40" y1="337" x2="396.40" y2="347.5" stroke="#bf6680" stroke-width="1.1"/>
<line x1="394.60" y1="337" x2="398.20" y2="337" stroke="#b04566" stroke-width="1.1"/>
<line x1="394.60" y1="347.5" x2="398.20" y2="347.5" stroke="#b04566" stroke-width="1.1"/>
<line x1="411.60" y1="342.5" x2="411.60" y2="346" stroke="#bf6680" stroke-width="1.1"/>
<line x1="409.80" y1="342.5" x2="413.40" y2="342.5" stroke="#b04566" stroke-width="1.1"/>
<line x1="409.80" y1="346" x2="413.40" y2="346" stroke="#b04566" stroke-width="1.1"/>
<line x1="426.80" y1="346.25" x2="426.80" y2="356.25" stroke="#bf6680" stroke-width="1.1"/>
<line x1="425.00" y1="346.25" x2="428.60" y2="346.25" stroke="#b04566" stroke-width="1.1"/>
<line x1="425.00" y1="356.25" x2="428.60" y2="356.25" stroke="#b04566" stroke-width="1.1"/>
<line x1="442.00" y1="345" x2="442.00" y2="352.5" stroke="#bf6680" stroke-width="1.1"/>
<line x1="440.20" y1="345" x2="443.80" y2="345" stroke="#b04566" stroke-width="1.1"/>
<line x1="440.20" y1="352.5" x2="443.80" y2="352.5" stroke="#b04566" stroke-width="1.1"/>
<line x1="457.20" y1="347" x2="457.20" y2="355" stroke="#bf6680" stroke-width="1.1"/>
<line x1="455.40" y1="347" x2="459.00" y2="347" stroke="#b04566" stroke-width="1.1"/>
<line x1="455.40" y1="355" x2="459.00" y2="355" stroke="#b04566" stroke-width="1.1"/>
<line x1="472.40" y1="350" x2="472.40" y2="362" stroke="#bf6680" stroke-width="1.1"/>
<line x1="470.60" y1="350" x2="474.20" y2="350" stroke="#b04566" stroke-width="1.1"/>
<line x1="470.60" y1="362" x2="474.20" y2="362" stroke="#b04566" stroke-width="1.1"/>
<line x1="487.60" y1="361.25" x2="487.60" y2="367.75" stroke="#bf6680" stroke-width="1.1"/>
<line x1="485.80" y1="361.25" x2="489.40" y2="361.25" stroke="#b04566" stroke-width="1.1"/>
<line x1="485.80" y1="367.75" x2="489.40" y2="367.75" stroke="#b04566" stroke-width="1.1"/>
<line x1="502.80" y1="370" x2="502.80" y2="374" stroke="#bf6680" stroke-width="1.1"/>
<line x1="501.00" y1="370" x2="504.60" y2="370" stroke="#b04566" stroke-width="1.1"/>
<line x1="501.00" y1="374" x2="504.60" y2="374" stroke="#b04566" stroke-width="1.1"/>
<path d="M396.40,342.50 L411.60,344.25 L426.80,351.25 L442.00,348.75 L457.20,351.25 L472.40,355.75 L487.60,364.50 L502.80,372.00" fill="none" stroke="#cc1a44" stroke-width="1.0"/>
<rect x="394.65" y="340.75" width="3.5" height="3.5" fill="#b3103a"/>
<rect x="409.85" y="342.50" width="3.5" height="3.5" fill="#b3103a"/>
<rect x="425.05" y="349.50" width="3.5" height="3.5" fill="#b3103a"/>
<rect x="440.25" y="347.00" width="3.5" height="3.5" fill="#b3103a"/>
<rect x="455.45" y="349.50" width="3.5" height="3.5" fill="#b3103a"/>
<rect x="470.65" y="354.00" width="3.5" height="3.5" fill="#b3103a"/>
<rect x="485.85" y="362.75" width="3.5" height="3.5" fill="#b3103a"/>
<rect x="501.05" y="370.25" width="3.5" height="3.5" fill="#b3103a"/>
<line x1="394.2" y1="317.7" x2="403.8" y2="317.7" stroke="#3a5b86" stroke-width="1.2"/>
<circle cx="399.20" cy="317.7" r="1.5" fill="#1f3d66"/>
<text x="407.4" y="320.0" font-size="7.35" text-anchor="start" fill="#1e1e1e" font-weight="normal" >WT</text>
<line x1="394.2" y1="329.3" x2="403.8" y2="329.3" stroke="#cc1a44" stroke-width="1.2"/>
<rect x="397.50" y="327.60" width="3.4" height="3.4" fill="#b3103a"/>
<text x="407.4" y="331.7" font-size="7.35" text-anchor="start" fill="#1e1e1e" font-weight="normal" ><tspan font-style="italic">SPP1</tspan>-KO</text>
<text x="502.6" y="343.3" font-size="7.6" text-anchor="middle" fill="#111" font-weight="bold" >**</text>
<line x1="111.3" y1="459.0" x2="111.3" y2="547.7" stroke="#333333" stroke-width="1.4"/>
<line x1="110.6" y1="547.0" x2="236.6" y2="547.0" stroke="#333333" stroke-width="1.4"/>
<line x1="107.8" y1="547.00" x2="111.3" y2="547.00" stroke="#333333" stroke-width="1"/>
<text x="105.6" y="549.85" font-size="7.9" text-anchor="end" fill="#1e1e1e" font-weight="normal" stroke="#1e1e1e" stroke-width="0.28">40</text>
<line x1="107.8" y1="525.73" x2="111.3" y2="525.73" stroke="#333333" stroke-width="1"/>
<text x="105.6" y="528.58" font-size="7.9" text-anchor="end" fill="#1e1e1e" font-weight="normal" stroke="#1e1e1e" stroke-width="0.28">50</text>
<line x1="107.8" y1="504.45" x2="111.3" y2="504.45" stroke="#333333" stroke-width="1"/>
<text x="105.6" y="507.3" font-size="7.9" text-anchor="end" fill="#1e1e1e" font-weight="normal" stroke="#1e1e1e" stroke-width="0.28">60</text>
<line x1="107.8" y1="483.18" x2="111.3" y2="483.18" stroke="#333333" stroke-width="1"/>
<text x="105.6" y="486.03" font-size="7.9" text-anchor="end" fill="#1e1e1e" font-weight="normal" stroke="#1e1e1e" stroke-width="0.28">70</text>
<line x1="107.8" y1="461.90" x2="111.3" y2="461.90" stroke="#333333" stroke-width="1"/>
<text x="105.6" y="464.75" font-size="7.9" text-anchor="end" fill="#1e1e1e" font-weight="normal" stroke="#1e1e1e" stroke-width="0.28">80</text>
<line x1="121.30" y1="547.0" x2="121.30" y2="550.0" stroke="#333333" stroke-width="1"/>
<text x="121.3" y="560.0" font-size="7.9" text-anchor="middle" fill="#1e1e1e" font-weight="normal" stroke="#1e1e1e" stroke-width="0.28">4</text>
<line x1="136.40" y1="547.0" x2="136.40" y2="550.0" stroke="#333333" stroke-width="1"/>
<text x="136.4" y="560.0" font-size="7.9" text-anchor="middle" fill="#1e1e1e" font-weight="normal" stroke="#1e1e1e" stroke-width="0.28">8</text>
<line x1="151.50" y1="547.0" x2="151.50" y2="550.0" stroke="#333333" stroke-width="1"/>
<text x="151.5" y="560.0" font-size="7.9" text-anchor="middle" fill="#1e1e1e" font-weight="normal" stroke="#1e1e1e" stroke-width="0.28">12</text>
<line x1="166.60" y1="547.0" x2="166.60" y2="550.0" stroke="#333333" stroke-width="1"/>
<text x="166.6" y="560.0" font-size="7.9" text-anchor="middle" fill="#1e1e1e" font-weight="normal" stroke="#1e1e1e" stroke-width="0.28">16</text>
<line x1="181.70" y1="547.0" x2="181.70" y2="550.0" stroke="#333333" stroke-width="1"/>
<text x="181.7" y="560.0" font-size="7.9" text-anchor="middle" fill="#1e1e1e" font-weight="normal" stroke="#1e1e1e" stroke-width="0.28">20</text>
<line x1="196.80" y1="547.0" x2="196.80" y2="550.0" stroke="#333333" stroke-width="1"/>
<text x="196.8" y="560.0" font-size="7.9" text-anchor="middle" fill="#1e1e1e" font-weight="normal" stroke="#1e1e1e" stroke-width="0.28">24</text>
<line x1="211.90" y1="547.0" x2="211.90" y2="550.0" stroke="#333333" stroke-width="1"/>
<text x="211.9" y="560.0" font-size="7.9" text-anchor="middle" fill="#1e1e1e" font-weight="normal" stroke="#1e1e1e" stroke-width="0.28">28</text>
<line x1="227.00" y1="547.0" x2="227.00" y2="550.0" stroke="#333333" stroke-width="1"/>
<text x="227.0" y="560.0" font-size="7.9" text-anchor="middle" fill="#1e1e1e" font-weight="normal" stroke="#1e1e1e" stroke-width="0.28">32</text>
<text x="174.3" y="573.1" font-size="9.0" font-weight="normal" text-anchor="middle" fill="#1a1a1a" stroke="#1a1a1a" stroke-width="0.3" textLength="19.6" lengthAdjust="spacingAndGlyphs">Weeks</text>
<text x="174.3" y="454.0" font-size="9.8" text-anchor="middle" fill="#222" font-weight="normal" >MCV</text>
<g transform="translate(91.0,502.9) rotate(-90)"><text x="0" y="0" font-size="9.0" font-weight="normal" text-anchor="middle" fill="#1a1a1a" stroke="#1a1a1a" stroke-width="0.3" textLength="16.6" lengthAdjust="spacingAndGlyphs">fl/cell</text></g>
<line x1="121.30" y1="527" x2="121.30" y2="531" stroke="#58718f" stroke-width="1.1"/>
<line x1="119.50" y1="527" x2="123.10" y2="527" stroke="#3f5a7e" stroke-width="1.1"/>
<line x1="119.50" y1="531" x2="123.10" y2="531" stroke="#3f5a7e" stroke-width="1.1"/>
<line x1="136.40" y1="518.5" x2="136.40" y2="524" stroke="#58718f" stroke-width="1.1"/>
<line x1="134.60" y1="518.5" x2="138.20" y2="518.5" stroke="#3f5a7e" stroke-width="1.1"/>
<line x1="134.60" y1="524" x2="138.20" y2="524" stroke="#3f5a7e" stroke-width="1.1"/>
<line x1="151.50" y1="511.5" x2="151.50" y2="516" stroke="#58718f" stroke-width="1.1"/>
<line x1="149.70" y1="511.5" x2="153.30" y2="511.5" stroke="#3f5a7e" stroke-width="1.1"/>
<line x1="149.70" y1="516" x2="153.30" y2="516" stroke="#3f5a7e" stroke-width="1.1"/>
<line x1="166.60" y1="508" x2="166.60" y2="512" stroke="#58718f" stroke-width="1.1"/>
<line x1="164.80" y1="508" x2="168.40" y2="508" stroke="#3f5a7e" stroke-width="1.1"/>
<line x1="164.80" y1="512" x2="168.40" y2="512" stroke="#3f5a7e" stroke-width="1.1"/>
<line x1="181.70" y1="507.5" x2="181.70" y2="511.5" stroke="#58718f" stroke-width="1.1"/>
<line x1="179.90" y1="507.5" x2="183.50" y2="507.5" stroke="#3f5a7e" stroke-width="1.1"/>
<line x1="179.90" y1="511.5" x2="183.50" y2="511.5" stroke="#3f5a7e" stroke-width="1.1"/>
<line x1="196.80" y1="503.25" x2="196.80" y2="512.5" stroke="#58718f" stroke-width="1.1"/>
<line x1="195.00" y1="503.25" x2="198.60" y2="503.25" stroke="#3f5a7e" stroke-width="1.1"/>
<line x1="195.00" y1="512.5" x2="198.60" y2="512.5" stroke="#3f5a7e" stroke-width="1.1"/>
<line x1="211.90" y1="502" x2="211.90" y2="512" stroke="#58718f" stroke-width="1.1"/>
<line x1="210.10" y1="502" x2="213.70" y2="502" stroke="#3f5a7e" stroke-width="1.1"/>
<line x1="210.10" y1="512" x2="213.70" y2="512" stroke="#3f5a7e" stroke-width="1.1"/>
<line x1="227.00" y1="493.75" x2="227.00" y2="513.25" stroke="#58718f" stroke-width="1.1"/>
<line x1="225.20" y1="493.75" x2="228.80" y2="493.75" stroke="#3f5a7e" stroke-width="1.1"/>
<line x1="225.20" y1="513.25" x2="228.80" y2="513.25" stroke="#3f5a7e" stroke-width="1.1"/>
<path d="M121.30,529.00 L136.40,521.25 L151.50,513.75 L166.60,510.00 L181.70,509.50 L196.80,507.75 L211.90,507.00 L227.00,503.50" fill="none" stroke="#3a5b86" stroke-width="1.0"/>
<circle cx="121.30" cy="529" r="1.55" fill="#1f3d66"/>
<circle cx="136.40" cy="521.25" r="1.55" fill="#1f3d66"/>
<circle cx="151.50" cy="513.75" r="1.55" fill="#1f3d66"/>
<circle cx="166.60" cy="510" r="1.55" fill="#1f3d66"/>
<circle cx="181.70" cy="509.5" r="1.55" fill="#1f3d66"/>
<circle cx="196.80" cy="507.75" r="1.55" fill="#1f3d66"/>
<circle cx="211.90" cy="507" r="1.55" fill="#1f3d66"/>
<circle cx="227.00" cy="503.5" r="1.55" fill="#1f3d66"/>
<line x1="121.30" y1="527" x2="121.30" y2="532" stroke="#bf6680" stroke-width="1.1"/>
<line x1="119.50" y1="527" x2="123.10" y2="527" stroke="#b04566" stroke-width="1.1"/>
<line x1="119.50" y1="532" x2="123.10" y2="532" stroke="#b04566" stroke-width="1.1"/>
<line x1="136.40" y1="517.5" x2="136.40" y2="528" stroke="#bf6680" stroke-width="1.1"/>
<line x1="134.60" y1="517.5" x2="138.20" y2="517.5" stroke="#b04566" stroke-width="1.1"/>
<line x1="134.60" y1="528" x2="138.20" y2="528" stroke="#b04566" stroke-width="1.1"/>
<line x1="151.50" y1="512" x2="151.50" y2="520.75" stroke="#bf6680" stroke-width="1.1"/>
<line x1="149.70" y1="512" x2="153.30" y2="512" stroke="#b04566" stroke-width="1.1"/>
<line x1="149.70" y1="520.75" x2="153.30" y2="520.75" stroke="#b04566" stroke-width="1.1"/>
<line x1="166.60" y1="503.25" x2="166.60" y2="517" stroke="#bf6680" stroke-width="1.1"/>
<line x1="164.80" y1="503.25" x2="168.40" y2="503.25" stroke="#b04566" stroke-width="1.1"/>
<line x1="164.80" y1="517" x2="168.40" y2="517" stroke="#b04566" stroke-width="1.1"/>
<line x1="181.70" y1="503" x2="181.70" y2="514.5" stroke="#bf6680" stroke-width="1.1"/>
<line x1="179.90" y1="503" x2="183.50" y2="503" stroke="#b04566" stroke-width="1.1"/>
<line x1="179.90" y1="514.5" x2="183.50" y2="514.5" stroke="#b04566" stroke-width="1.1"/>
<line x1="196.80" y1="495.75" x2="196.80" y2="513.75" stroke="#bf6680" stroke-width="1.1"/>
<line x1="195.00" y1="495.75" x2="198.60" y2="495.75" stroke="#b04566" stroke-width="1.1"/>
<line x1="195.00" y1="513.75" x2="198.60" y2="513.75" stroke="#b04566" stroke-width="1.1"/>
<line x1="211.90" y1="488.75" x2="211.90" y2="500" stroke="#bf6680" stroke-width="1.1"/>
<line x1="210.10" y1="488.75" x2="213.70" y2="488.75" stroke="#b04566" stroke-width="1.1"/>
<line x1="210.10" y1="500" x2="213.70" y2="500" stroke="#b04566" stroke-width="1.1"/>
<line x1="227.00" y1="475.75" x2="227.00" y2="480.75" stroke="#bf6680" stroke-width="1.1"/>
<line x1="225.20" y1="475.75" x2="228.80" y2="475.75" stroke="#b04566" stroke-width="1.1"/>
<line x1="225.20" y1="480.75" x2="228.80" y2="480.75" stroke="#b04566" stroke-width="1.1"/>
<path d="M121.30,529.50 L136.40,522.50 L151.50,516.25 L166.60,510.25 L181.70,509.00 L196.80,504.50 L211.90,494.50 L227.00,478.25" fill="none" stroke="#cc1a44" stroke-width="1.0"/>
<rect x="119.55" y="527.75" width="3.5" height="3.5" fill="#b3103a"/>
<rect x="134.65" y="520.75" width="3.5" height="3.5" fill="#b3103a"/>
<rect x="149.75" y="514.50" width="3.5" height="3.5" fill="#b3103a"/>
<rect x="164.85" y="508.50" width="3.5" height="3.5" fill="#b3103a"/>
<rect x="179.95" y="507.25" width="3.5" height="3.5" fill="#b3103a"/>
<rect x="195.05" y="502.75" width="3.5" height="3.5" fill="#b3103a"/>
<rect x="210.15" y="492.75" width="3.5" height="3.5" fill="#b3103a"/>
<rect x="225.25" y="476.50" width="3.5" height="3.5" fill="#b3103a"/>
<text x="207.9" y="466.3" font-size="7.6" text-anchor="middle" fill="#111" font-weight="bold" >**</text>
<text x="226.9" y="466.3" font-size="7.6" text-anchor="middle" fill="#111" font-weight="bold" >*</text>
<line x1="285.5" y1="459.0" x2="285.5" y2="547.4000000000001" stroke="#333333" stroke-width="1.4"/>
<line x1="284.8" y1="546.7" x2="410.0" y2="546.7" stroke="#333333" stroke-width="1.4"/>
<line x1="282.0" y1="546.70" x2="285.5" y2="546.70" stroke="#333333" stroke-width="1"/>
<text x="279.8" y="549.55" font-size="7.9" text-anchor="end" fill="#1e1e1e" font-weight="normal" stroke="#1e1e1e" stroke-width="0.28">0</text>
<line x1="282.0" y1="507.10" x2="285.5" y2="507.10" stroke="#333333" stroke-width="1"/>
<text x="279.8" y="509.95" font-size="7.9" text-anchor="end" fill="#1e1e1e" font-weight="normal" stroke="#1e1e1e" stroke-width="0.28">50</text>
<line x1="282.0" y1="467.50" x2="285.5" y2="467.50" stroke="#333333" stroke-width="1"/>
<text x="279.8" y="470.35" font-size="7.9" text-anchor="end" fill="#1e1e1e" font-weight="normal" stroke="#1e1e1e" stroke-width="0.28">100</text>
<line x1="285.50" y1="546.7" x2="285.50" y2="549.7" stroke="#333333" stroke-width="1"/>
<text x="285.5" y="559.7" font-size="7.9" text-anchor="middle" fill="#1e1e1e" font-weight="normal" stroke="#1e1e1e" stroke-width="0.28">0</text>
<line x1="309.98" y1="546.7" x2="309.98" y2="549.7" stroke="#333333" stroke-width="1"/>
<text x="309.98" y="559.7" font-size="7.9" text-anchor="middle" fill="#1e1e1e" font-weight="normal" stroke="#1e1e1e" stroke-width="0.28">100</text>
<line x1="334.46" y1="546.7" x2="334.46" y2="549.7" stroke="#333333" stroke-width="1"/>
<text x="334.46" y="559.7" font-size="7.9" text-anchor="middle" fill="#1e1e1e" font-weight="normal" stroke="#1e1e1e" stroke-width="0.28">200</text>
<line x1="358.94" y1="546.7" x2="358.94" y2="549.7" stroke="#333333" stroke-width="1"/>
<text x="358.94" y="559.7" font-size="7.9" text-anchor="middle" fill="#1e1e1e" font-weight="normal" stroke="#1e1e1e" stroke-width="0.28">300</text>
<line x1="383.42" y1="546.7" x2="383.42" y2="549.7" stroke="#333333" stroke-width="1"/>
<text x="383.42" y="559.7" font-size="7.9" text-anchor="middle" fill="#1e1e1e" font-weight="normal" stroke="#1e1e1e" stroke-width="0.28">400</text>
<line x1="407.90" y1="546.7" x2="407.90" y2="549.7" stroke="#333333" stroke-width="1"/>
<text x="407.9" y="559.7" font-size="7.9" text-anchor="middle" fill="#1e1e1e" font-weight="normal" stroke="#1e1e1e" stroke-width="0.28">500</text>
<text x="347.8" y="572.8" font-size="9.0" font-weight="normal" text-anchor="middle" fill="#1a1a1a" stroke="#1a1a1a" stroke-width="0.3" textLength="14.3" lengthAdjust="spacingAndGlyphs">Days</text>
<text x="348.05" y="454.9" font-size="9.8" text-anchor="middle" fill="#222" font-weight="normal" textLength="32.2" lengthAdjust="spacingAndGlyphs">Survival</text>
<g transform="translate(260.0,503.0) rotate(-90)"><text x="0" y="0" font-size="9.0" font-weight="normal" text-anchor="middle" fill="#1a1a1a" stroke="#1a1a1a" stroke-width="0.3" textLength="45.8" lengthAdjust="spacingAndGlyphs">Percent survival</text></g>
<path d="M341.30,467.50 L341.30,487.30 L348.00,487.30 L348.00,507.10 L352.50,507.10 L352.50,526.90 L357.50,526.90 L357.50,546.70" fill="none" stroke="#d2334f" stroke-width="1.2"/>
<path d="M285.50,467.50 L341.30,467.50 L341.30,483.34 L359.50,483.34 L359.50,499.18 L368.00,499.18 L368.00,515.02 L373.80,515.02 L373.80,530.86 L386.20,530.86 L386.20,546.70" fill="none" stroke="#4d70a0" stroke-width="1.2"/>
<text x="343.9" y="474.6" font-size="7.8" fill="#1e1e1e"><tspan font-style="italic">P</tspan> = .036</text>
<line x1="379.3" y1="466.5" x2="388.5" y2="466.5" stroke="#58718f" stroke-width="1"/>
<line x1="383.9" y1="464.8" x2="383.9" y2="466.5" stroke="#58718f" stroke-width="1"/>
<text x="391.4" y="468.0" font-size="7.35" text-anchor="start" fill="#1e1e1e" font-weight="normal" >WT n = 5</text>
<line x1="379.3" y1="477.6" x2="388.5" y2="477.6" stroke="#d2334f" stroke-width="1"/>
<line x1="383.9" y1="475.9" x2="383.9" y2="477.6" stroke="#d2334f" stroke-width="1"/>
<text x="390.8" y="478.8" font-size="7.35" text-anchor="start" fill="#1e1e1e" font-weight="normal" ><tspan font-style="italic">SPP1</tspan>-KO n = 4</text>
<text x="114.0" y="49.6" font-size="7.6" text-anchor="middle" fill="#1c1c1c" font-weight="normal" stroke="#1c1c1c" stroke-width="0.15">SAP-cKit</text>
<text x="287.2" y="26.1" font-size="8.1" text-anchor="middle" fill="#1c1c1c" font-weight="normal" stroke="#1c1c1c" stroke-width="0.15">CD45.1.2</text>
<text x="331.55" y="27.0" font-size="8.15" text-anchor="middle" fill="#1c1c1c" font-weight="normal" stroke="#1c1c1c" stroke-width="0.15">CD45.2</text>
<text x="255.5" y="34.2" font-size="8.25" text-anchor="middle" fill="#1c1c1c" font-weight="normal" stroke="#1c1c1c" stroke-width="0.15">1:1 NHD13</text>
<text x="312.0" y="33.2" font-size="8.1" text-anchor="middle" fill="#1c1c1c" font-weight="normal" stroke="#1c1c1c" stroke-width="0.15">:WT</text>
<text x="205.2" y="69.2" font-size="7.7" text-anchor="middle" fill="#1c1c1c" font-weight="normal" stroke="#1c1c1c" stroke-width="0.15">8 days</text>
<text x="402.2" y="71.3" font-size="7.5" text-anchor="middle" fill="#1c1c1c" font-weight="normal" stroke="#1c1c1c" stroke-width="0.15">Monthly bleed</text>
<text x="402.0" y="80.3" font-size="7.4" text-anchor="middle" fill="#1c1c1c" font-weight="normal" stroke="#1c1c1c" stroke-width="0.15">analysis</text>
<text x="135.6" y="122.6" font-size="7.75" text-anchor="middle" fill="#1c1c1c" stroke-width="0.15"><tspan fill="#40609a" stroke="#40609a">WT</tspan><tspan stroke="#1c1c1c"> or </tspan><tspan fill="#c82c58" stroke="#c82c58" font-style="italic">Spp1</tspan><tspan fill="#c82c58" stroke="#c82c58">-KO</tspan></text>
<text x="135.2" y="132.0" font-size="7.7" text-anchor="middle" fill="#1c1c1c" font-weight="normal" stroke="#1c1c1c" stroke-width="0.15">CD45.1</text>
<line x1="168.0" y1="73.9" x2="236.6" y2="73.9" stroke="#444" stroke-width="1.3"/>
<path d="M241.6,73.9 L234.9,71.10000000000001 L236.29999999999998,73.9 L234.9,76.7 Z" fill="#111"/>
<line x1="301.7" y1="74.1" x2="370.4" y2="74.1" stroke="#444" stroke-width="1.3"/>
<path d="M375.4,74.1 L368.7,71.3 L370.09999999999997,74.1 L368.7,76.89999999999999 Z" fill="#111"/>
<g transform="translate(97.9,64.6) rotate(47)" stroke="#111" fill="none" stroke-linecap="butt"><line x1="0" y1="-4.75" x2="0" y2="4.75" stroke-width="1.35"/><line x1="0" y1="-1.5" x2="5.4" y2="-1.5" stroke-width="1.0"/><line x1="0" y1="1.5" x2="5.4" y2="1.5" stroke-width="1.0"/><line x1="5.4" y1="-5.4" x2="5.4" y2="5.4" stroke-width="1.35"/><path d="M5.4,-2.75 L18.4,-2.75 L21.0,-0.9 L21.0,0.9 L18.4,2.75 L5.4,2.75" stroke-width="1.1"/><line x1="7.0" y1="0.2" x2="7.0" y2="2.4" stroke-width="0.7" stroke="#333"/><line x1="8.5" y1="0.2" x2="8.5" y2="2.4" stroke-width="0.7" stroke="#333"/><line x1="10.0" y1="0.2" x2="10.0" y2="2.4" stroke-width="0.7" stroke="#333"/><line x1="11.5" y1="0.2" x2="11.5" y2="2.4" stroke-width="0.7" stroke="#333"/><line x1="13.0" y1="0.2" x2="13.0" y2="2.4" stroke-width="0.7" stroke="#333"/><line x1="14.5" y1="0.2" x2="14.5" y2="2.4" stroke-width="0.7" stroke="#333"/><line x1="16.0" y1="0.2" x2="16.0" y2="2.4" stroke-width="0.7" stroke="#333"/><line x1="21.0" y1="0" x2="26.2" y2="0" stroke-width="1.0"/></g>
<g transform="translate(235.6,41.05) rotate(47)" stroke="#111" fill="none" stroke-linecap="butt"><line x1="0" y1="-4.75" x2="0" y2="4.75" stroke-width="1.35"/><line x1="0" y1="-1.5" x2="5.4" y2="-1.5" stroke-width="1.0"/><line x1="0" y1="1.5" x2="5.4" y2="1.5" stroke-width="1.0"/><line x1="5.4" y1="-5.4" x2="5.4" y2="5.4" stroke-width="1.35"/><path d="M5.4,-2.75 L18.4,-2.75 L21.0,-0.9 L21.0,0.9 L18.4,2.75 L5.4,2.75" stroke-width="1.1"/><line x1="7.0" y1="0.2" x2="7.0" y2="2.4" stroke-width="0.7" stroke="#333"/><line x1="8.5" y1="0.2" x2="8.5" y2="2.4" stroke-width="0.7" stroke="#333"/><line x1="10.0" y1="0.2" x2="10.0" y2="2.4" stroke-width="0.7" stroke="#333"/><line x1="11.5" y1="0.2" x2="11.5" y2="2.4" stroke-width="0.7" stroke="#333"/><line x1="13.0" y1="0.2" x2="13.0" y2="2.4" stroke-width="0.7" stroke="#333"/><line x1="14.5" y1="0.2" x2="14.5" y2="2.4" stroke-width="0.7" stroke="#333"/><line x1="16.0" y1="0.2" x2="16.0" y2="2.4" stroke-width="0.7" stroke="#333"/><line x1="21.0" y1="0" x2="26.2" y2="0" stroke-width="1.0"/></g>
<g transform="translate(0,0)" fill="none" stroke="#111" stroke-width="1.4" stroke-linecap="round" stroke-linejoin="round">
<path d="M150.4,58.1 C145,58.4 138,59.4 132.5,61.8 C127,64.3 123.2,68.5 122.4,73.5 C121.8,78 122.2,82.5 123.5,85.2 C125,87.5 128,88.6 131,89 L133.1,89.3 C133.6,90.5 134.3,91.6 135.4,92.2 C139,92.6 144,92.8 148.6,92.7 C149.3,92.1 149.1,91.3 148.4,90.9 C145.5,90.2 140.5,89.3 136.6,88.6 M129.6,75.6 C132,75.4 134.8,75.9 136.5,77.6 C138.2,79.4 138.5,82 138.1,84 C137.8,85.8 137.2,87.2 136.6,88.6 M138.1,85 C139.5,82.6 142,80.8 145,79.7 C148,78.6 151,77.6 153.6,76.6 M146.5,74.2 C149,75.7 153,76.3 157.3,76.2 C158.5,76.4 159.8,77.4 160.4,76.8 C160.8,76 160.1,75 158.2,74.2 L156.3,73.5 M156.3,73.5 C157.3,71.8 159,70.2 161,68.6 C164,66 168,63.5 171,61.3 C173.2,59.8 174.5,58.5 174.6,57.2 C174.6,56.1 173.2,55.4 171,55.2 C167,54.7 162,54.8 158.6,55.1 "/>
<path d="M148.2,54.4 C149.5,53.2 152,53.3 154.5,53.9 C156.5,54.4 158.3,55.2 159.2,56.2 C159.7,56.9 159.8,57.6 159.7,58.2 M148.4,54.7 C150.8,56.3 153.3,58.2 155.4,60 C156.1,60.6 156.6,61.2 156.9,61.7"/>
<path d="M123.3,85.6 C117,88 111.5,92 110.8,97.3 C110.2,103 117,107.8 127.5,110.6 C137,112.6 150,111.8 158.6,107.4 C162,105.2 163.8,101.5 163.6,97.6 M123.8,88.0 C118.8,90.3 114.6,93.5 114.3,97.6 C114.1,101.5 119.5,105.1 129,107.5 C140,109.3 151.5,108.3 158,105.1 C160.5,103.7 162.4,101.5 163.6,97.6" stroke-width="1.15"/>
<circle cx="165.4" cy="58.8" r="1.55" fill="#111" stroke="none"/>
</g>
<g transform="translate(126.3,0.5)" fill="none" stroke="#111" stroke-width="1.4" stroke-linecap="round" stroke-linejoin="round">
<path d="M150.4,58.1 C145,58.4 138,59.4 132.5,61.8 C127,64.3 123.2,68.5 122.4,73.5 C121.8,78 122.2,82.5 123.5,85.2 C125,87.5 128,88.6 131,89 L133.1,89.3 C133.6,90.5 134.3,91.6 135.4,92.2 C139,92.6 144,92.8 148.6,92.7 C149.3,92.1 149.1,91.3 148.4,90.9 C145.5,90.2 140.5,89.3 136.6,88.6 M129.6,75.6 C132,75.4 134.8,75.9 136.5,77.6 C138.2,79.4 138.5,82 138.1,84 C137.8,85.8 137.2,87.2 136.6,88.6 M138.1,85 C139.5,82.6 142,80.8 145,79.7 C148,78.6 151,77.6 153.6,76.6 M146.5,74.2 C149,75.7 153,76.3 157.3,76.2 C158.5,76.4 159.8,77.4 160.4,76.8 C160.8,76 160.1,75 158.2,74.2 L156.3,73.5 M156.3,73.5 C157.3,71.8 159,70.2 161,68.6 C164,66 168,63.5 171,61.3 C173.2,59.8 174.5,58.5 174.6,57.2 C174.6,56.1 173.2,55.4 171,55.2 C167,54.7 162,54.8 158.6,55.1 "/>
<path d="M148.2,54.4 C149.5,53.2 152,53.3 154.5,53.9 C156.5,54.4 158.3,55.2 159.2,56.2 C159.7,56.9 159.8,57.6 159.7,58.2 M148.4,54.7 C150.8,56.3 153.3,58.2 155.4,60 C156.1,60.6 156.6,61.2 156.9,61.7"/>
<path d="M123.3,85.6 C117,88 111.5,92 110.8,97.3 C110.2,103 117,107.8 127.5,110.6 C137,112.6 150,111.8 158.6,107.4 C162,105.2 163.8,101.5 163.6,97.6 M123.8,88.0 C118.8,90.3 114.6,93.5 114.3,97.6 C114.1,101.5 119.5,105.1 129,107.5 C140,109.3 151.5,108.3 158,105.1 C160.5,103.7 162.4,101.5 163.6,97.6" stroke-width="1.15"/>
<circle cx="165.4" cy="58.8" r="1.55" fill="#111" stroke="none"/>
</g>
<rect x="0" y="0" width="520" height="1" fill="#626262"/>
<rect x="0" y="0" width="1.2" height="582" fill="#555"/>
<rect x="518.8" y="0" width="1.2" height="582" fill="#555"/>
<rect x="0" y="580.8" width="520" height="1.2" fill="#555"/>
</svg></body></html>
